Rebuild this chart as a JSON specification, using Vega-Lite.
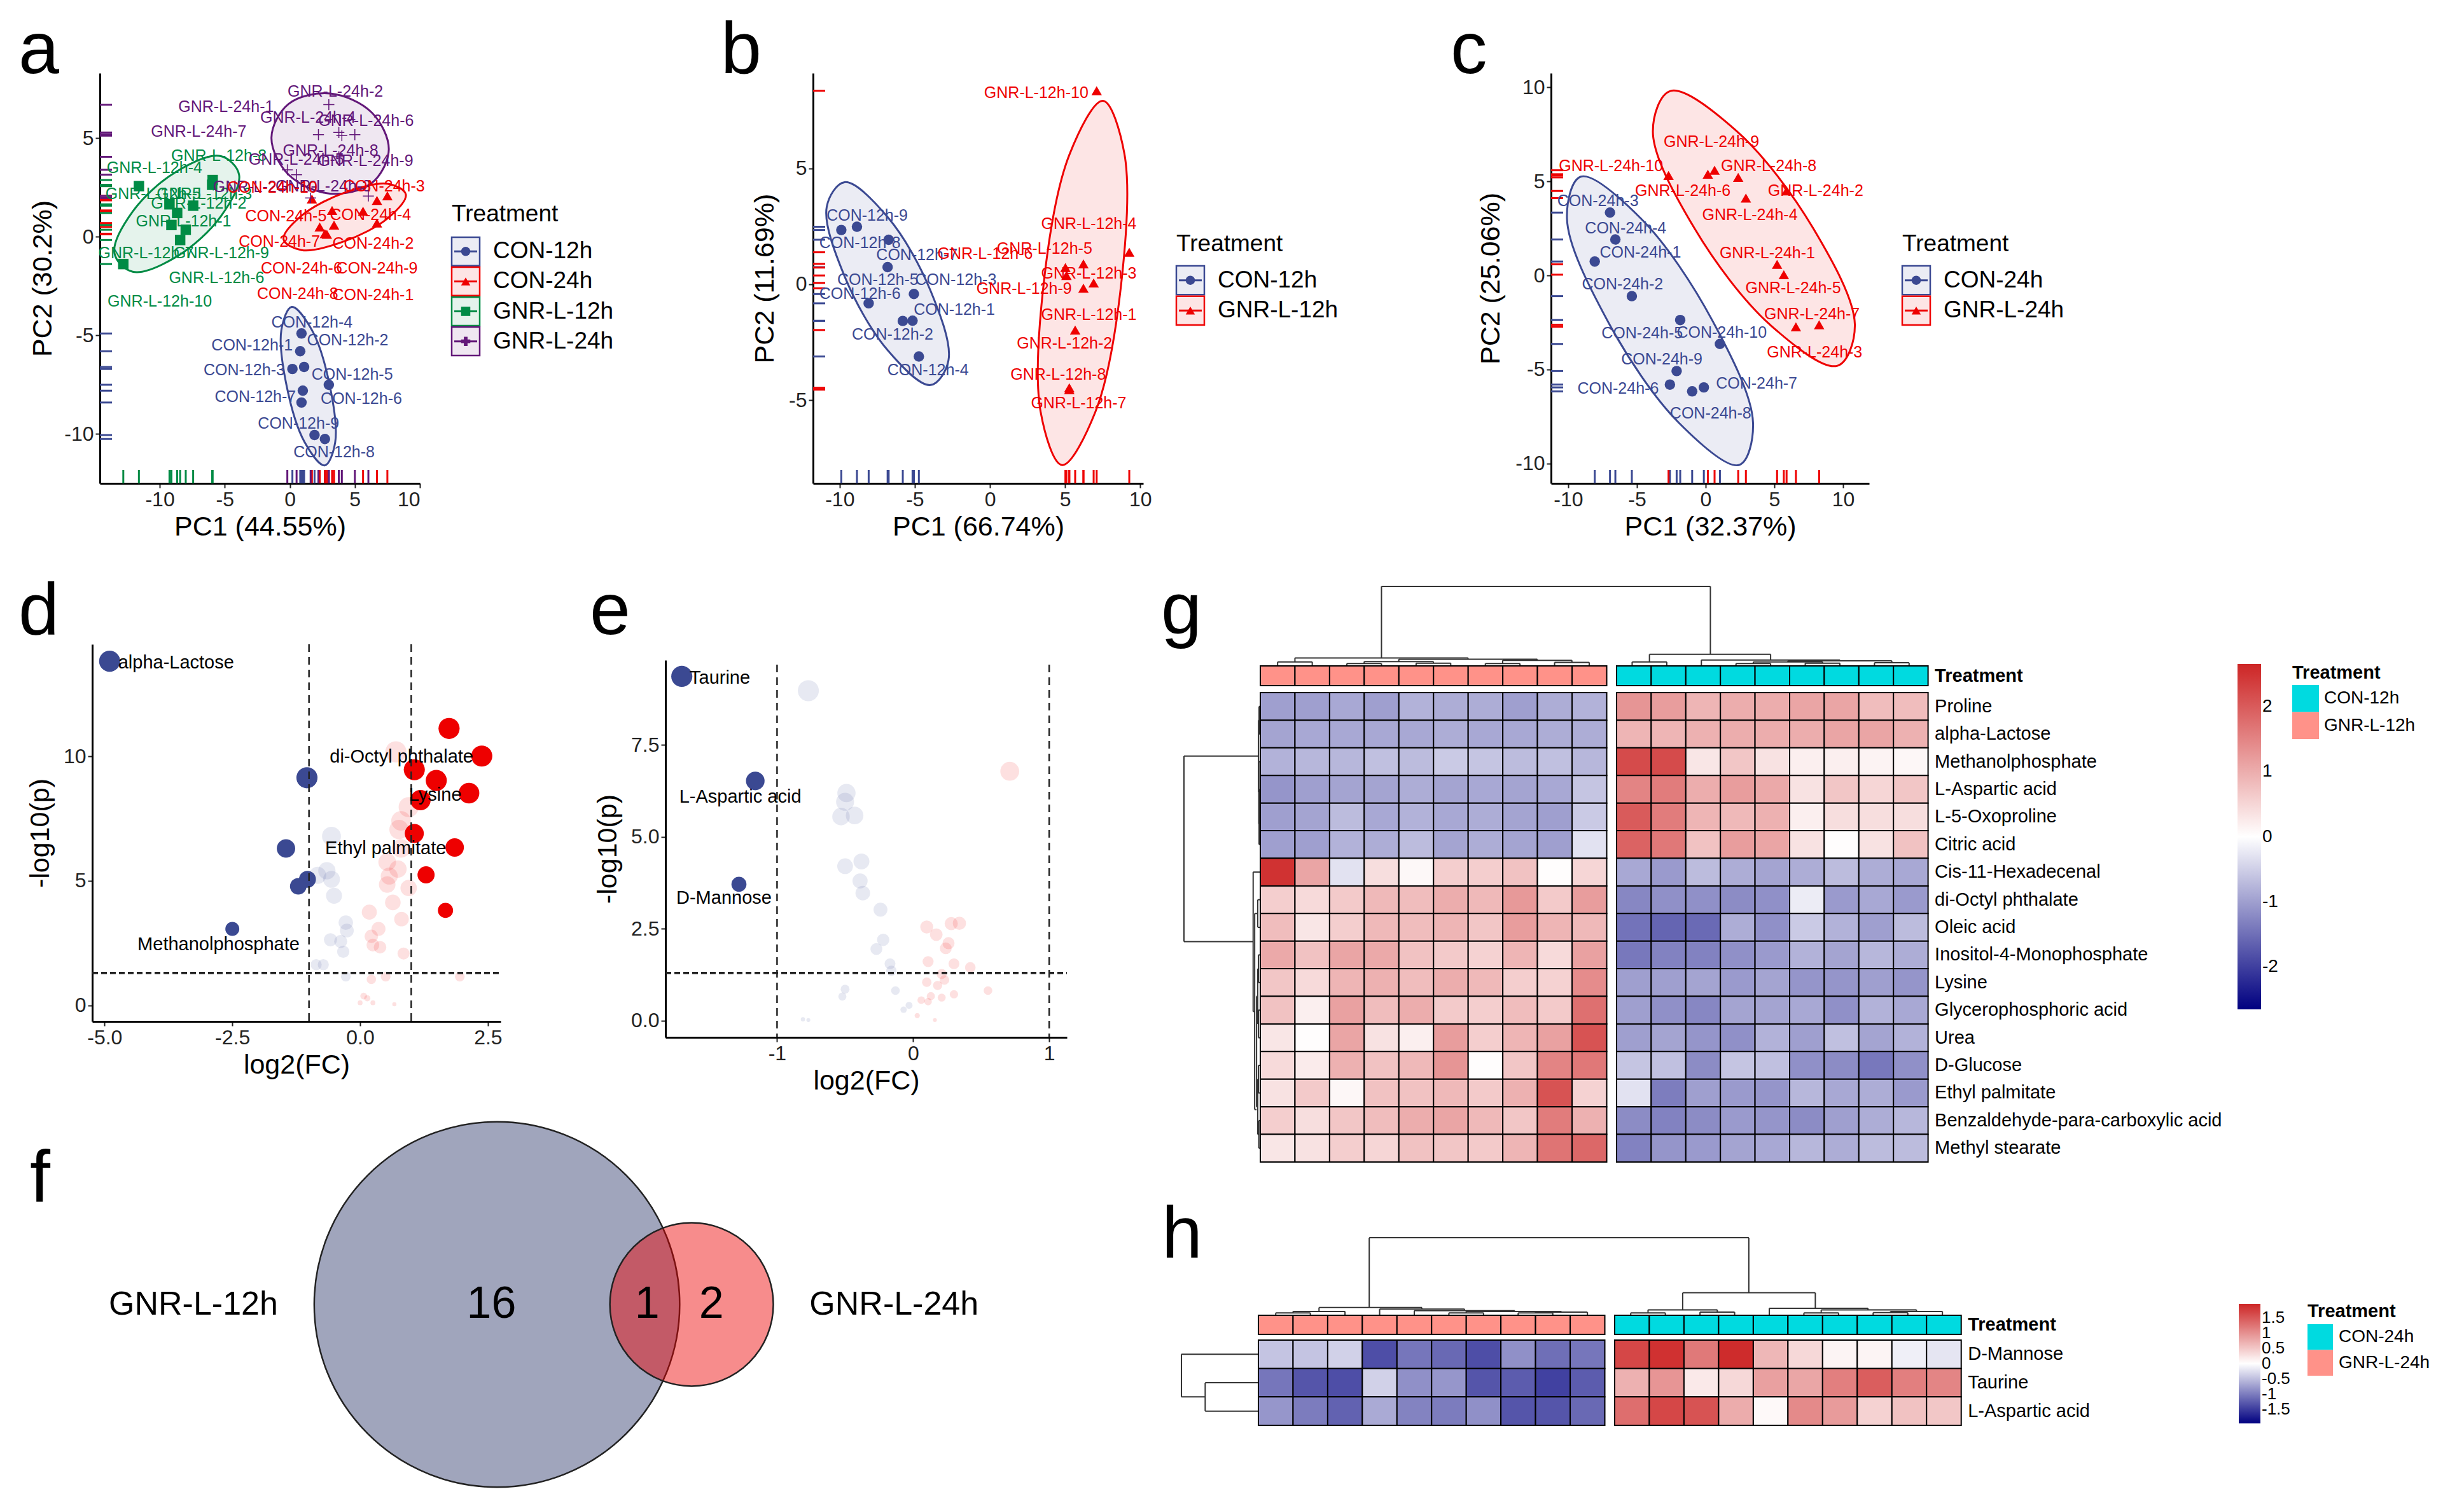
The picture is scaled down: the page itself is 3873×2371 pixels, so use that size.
{"$schema":"https://vega.github.io/schema/vega-lite/v6.json","padding":0,"background":"white","config":{"font":"Liberation Sans","view":{"stroke":null},"axis":{"grid":false,"labelFont":"Liberation Sans","titleFont":"Liberation Sans","labelFontSize":32,"titleFontSize":43,"titleFontWeight":"normal","labelColor":"#222222","titleColor":"#000000","domainColor":"#000000","domainWidth":3,"tickColor":"#222222","tickWidth":2,"tickSize":7,"labelPadding":3,"labelOverlap":false}},
"datasets":{"one":[{"s":1}],
"a_pts":[{"series":"CON-12h","x":0.9,"y":-4.9},{"series":"CON-12h","x":0.8,"y":-5.8},{"series":"CON-12h","x":0.2,"y":-6.7},{"series":"CON-12h","x":1.1,"y":-6.6},{"series":"CON-12h","x":3.0,"y":-7.5},{"series":"CON-12h","x":1.0,"y":-7.8},{"series":"CON-12h","x":0.9,"y":-8.4},{"series":"CON-12h","x":1.9,"y":-10.05},{"series":"CON-12h","x":2.7,"y":-10.25},
{"series":"CON-24h","x":1.7,"y":1.92},{"series":"CON-24h","x":3.25,"y":1.34},{"series":"CON-24h","x":6.7,"y":1.85},{"series":"CON-24h","x":7.5,"y":2.08},{"series":"CON-24h","x":5.63,"y":1.3},{"series":"CON-24h","x":6.7,"y":0.7},{"series":"CON-24h","x":2.3,"y":0.5},{"series":"CON-24h","x":3.4,"y":0.6},{"series":"CON-24h","x":2.7,"y":0.16},{"series":"CON-24h","x":2.85,"y":0.13},
{"series":"GNR-L-12h","x":-12.8,"y":-1.38},{"series":"GNR-L-12h","x":-11.6,"y":2.57},{"series":"GNR-L-12h","x":-9.25,"y":1.65},{"series":"GNR-L-12h","x":-7.43,"y":1.58},{"series":"GNR-L-12h","x":-8.66,"y":1.21},{"series":"GNR-L-12h","x":-9.1,"y":0.6},{"series":"GNR-L-12h","x":-8.0,"y":0.36},{"series":"GNR-L-12h","x":-8.43,"y":-0.16},{"series":"GNR-L-12h","x":-5.97,"y":2.64},{"series":"GNR-L-12h","x":-5.93,"y":2.88},
{"series":"GNR-L-24h","x":3.0,"y":6.7},{"series":"GNR-L-24h","x":2.2,"y":5.18},{"series":"GNR-L-24h","x":3.77,"y":5.29},{"series":"GNR-L-24h","x":4.0,"y":5.13},{"series":"GNR-L-24h","x":5.0,"y":5.18},{"series":"GNR-L-24h","x":-0.19,"y":3.4},{"series":"GNR-L-24h","x":0.52,"y":3.15},{"series":"GNR-L-24h","x":3.77,"y":4.06},{"series":"GNR-L-24h","x":6.04,"y":2.07},{"series":"GNR-L-24h","x":1.6,"y":1.97}],
"a_lab":[{"series":"GNR-L-12h","label":"GNR-L-12h-4","x":-10.4,"y":3.5},{"series":"GNR-L-12h","label":"GNR-L-12h-8","x":-5.45,"y":4.1},{"series":"GNR-L-12h","label":"GNR-L-12h-5","x":-10.5,"y":2.16},{"series":"GNR-L-12h","label":"GNR-L-12h-3","x":-6.57,"y":2.16},{"series":"GNR-L-12h","label":"GNR-L-12h-2","x":-7.0,"y":1.7},{"series":"GNR-L-12h","label":"GNR-L-12h-1","x":-8.17,"y":0.8},{"series":"GNR-L-12h","label":"GNR-L-12h-7","x":-11.05,"y":-0.83},{"series":"GNR-L-12h","label":"GNR-L-12h-9","x":-5.26,"y":-0.83},{"series":"GNR-L-12h","label":"GNR-L-12h-6","x":-5.63,"y":-2.07},{"series":"GNR-L-12h","label":"GNR-L-12h-10","x":-10.0,"y":-3.28},
{"series":"GNR-L-24h","label":"GNR-L-24h-2","x":3.5,"y":7.37},{"series":"GNR-L-24h","label":"GNR-L-24h-1","x":-4.9,"y":6.6},{"series":"GNR-L-24h","label":"GNR-L-24h-4","x":1.4,"y":6.05},{"series":"GNR-L-24h","label":"GNR-L-24h-6","x":5.86,"y":5.87},{"series":"GNR-L-24h","label":"GNR-L-24h-7","x":-7.0,"y":5.33},{"series":"GNR-L-24h","label":"GNR-L-24h-8","x":3.13,"y":4.38},{"series":"GNR-L-24h","label":"GNR-L-24h-5","x":0.5,"y":3.9},{"series":"GNR-L-24h","label":"GNR-L-24h-9","x":5.82,"y":3.84},{"series":"GNR-L-24h","label":"GNR-L-24h-10","x":-1.9,"y":2.54},{"series":"GNR-L-24h","label":"GNR-L-24h-3","x":2.57,"y":2.57},
{"series":"CON-24h","label":"CON-24h-3","x":7.25,"y":2.57},{"series":"CON-24h","label":"CON-24h-10","x":-1.35,"y":2.5},{"series":"CON-24h","label":"CON-24h-5","x":-0.3,"y":1.03},{"series":"CON-24h","label":"CON-24h-4","x":6.2,"y":1.1},{"series":"CON-24h","label":"CON-24h-7","x":-0.8,"y":-0.25},{"series":"CON-24h","label":"CON-24h-2","x":6.4,"y":-0.34},{"series":"CON-24h","label":"CON-24h-9","x":6.7,"y":-1.6},{"series":"CON-24h","label":"CON-24h-6","x":0.9,"y":-1.6},{"series":"CON-24h","label":"CON-24h-8","x":0.6,"y":-2.88},{"series":"CON-24h","label":"CON-24h-1","x":6.4,"y":-2.97},
{"series":"CON-12h","label":"CON-12h-4","x":1.7,"y":-4.33},{"series":"CON-12h","label":"CON-12h-1","x":-2.9,"y":-5.5},{"series":"CON-12h","label":"CON-12h-2","x":4.45,"y":-5.25},{"series":"CON-12h","label":"CON-12h-3","x":-3.5,"y":-6.75},{"series":"CON-12h","label":"CON-12h-5","x":4.8,"y":-6.98},{"series":"CON-12h","label":"CON-12h-7","x":-2.65,"y":-8.12},{"series":"CON-12h","label":"CON-12h-6","x":5.5,"y":-8.2},{"series":"CON-12h","label":"CON-12h-9","x":0.67,"y":-9.47},{"series":"CON-12h","label":"CON-12h-8","x":3.4,"y":-10.93}],
"a_ell":[{"series":"GNR-L-12h","i":0,"x":-3.9,"y":3.15},{"series":"GNR-L-12h","i":1,"x":-5.3,"y":4.09},{"series":"GNR-L-12h","i":2,"x":-8.69,"y":3.32},{"series":"GNR-L-12h","i":3,"x":-12.08,"y":1.28},{"series":"GNR-L-12h","i":4,"x":-13.48,"y":-0.83},{"series":"GNR-L-12h","i":5,"x":-12.08,"y":-1.77},{"series":"GNR-L-12h","i":6,"x":-8.69,"y":-1.0},{"series":"GNR-L-12h","i":7,"x":-5.3,"y":1.04},
{"series":"GNR-L-24h","i":0,"x":7.61,"y":4.43},{"series":"GNR-L-24h","i":1,"x":6.29,"y":6.31},{"series":"GNR-L-24h","i":2,"x":3.1,"y":7.27},{"series":"GNR-L-24h","i":3,"x":-0.09,"y":6.74},{"series":"GNR-L-24h","i":4,"x":-1.41,"y":5.03},{"series":"GNR-L-24h","i":5,"x":-0.09,"y":3.15},{"series":"GNR-L-24h","i":6,"x":3.1,"y":2.19},{"series":"GNR-L-24h","i":7,"x":6.29,"y":2.72},
{"series":"CON-24h","i":0,"x":8.92,"y":2.15},{"series":"CON-24h","i":1,"x":7.54,"y":2.69},{"series":"CON-24h","i":2,"x":4.22,"y":2.24},{"series":"CON-24h","i":3,"x":0.9,"y":1.07},{"series":"CON-24h","i":4,"x":-0.48,"y":-0.13},{"series":"CON-24h","i":5,"x":0.9,"y":-0.67},{"series":"CON-24h","i":6,"x":4.22,"y":-0.22},{"series":"CON-24h","i":7,"x":7.54,"y":0.95},
{"series":"CON-12h","i":0,"x":2.69,"y":-11.59},{"series":"CON-12h","i":1,"x":3.49,"y":-10.41},{"series":"CON-12h","i":2,"x":3.08,"y":-7.57},{"series":"CON-12h","i":3,"x":1.7,"y":-4.73},{"series":"CON-12h","i":4,"x":0.15,"y":-3.55},{"series":"CON-12h","i":5,"x":-0.65,"y":-4.73},{"series":"CON-12h","i":6,"x":-0.24,"y":-7.57},{"series":"CON-12h","i":7,"x":1.14,"y":-10.41}],
"b_pts":[{"series":"CON-12h","x":-9.89,"y":2.34},{"series":"CON-12h","x":-8.85,"y":2.48},{"series":"CON-12h","x":-6.74,"y":1.92},{"series":"CON-12h","x":-6.81,"y":0.74},{"series":"CON-12h","x":-5.06,"y":-0.42},{"series":"CON-12h","x":-8.07,"y":-0.82},{"series":"CON-12h","x":-5.8,"y":-1.58},{"series":"CON-12h","x":-5.15,"y":-1.57},{"series":"CON-12h","x":-4.73,"y":-3.11},
{"series":"GNR-L-12h","x":7.1,"y":8.34},{"series":"GNR-L-12h","x":9.27,"y":1.38},{"series":"GNR-L-12h","x":6.22,"y":0.88},{"series":"GNR-L-12h","x":5.02,"y":0.72},{"series":"GNR-L-12h","x":5.09,"y":0.38},{"series":"GNR-L-12h","x":6.9,"y":0.06},{"series":"GNR-L-12h","x":6.22,"y":-0.17},{"series":"GNR-L-12h","x":5.67,"y":-1.97},{"series":"GNR-L-12h","x":5.28,"y":-4.46},{"series":"GNR-L-12h","x":5.28,"y":-4.54}],
"b_lab":[{"series":"CON-12h","label":"CON-12h-9","x":-8.17,"y":2.95},{"series":"CON-12h","label":"CON-12h-8","x":-8.65,"y":1.77},{"series":"CON-12h","label":"CON-12h-7","x":-4.86,"y":1.26},{"series":"CON-12h","label":"CON-12h-5","x":-7.46,"y":0.18},{"series":"CON-12h","label":"CON-12h-3","x":-2.27,"y":0.18},{"series":"CON-12h","label":"CON-12h-6","x":-8.65,"y":-0.4},{"series":"CON-12h","label":"CON-12h-1","x":-2.37,"y":-1.09},{"series":"CON-12h","label":"CON-12h-2","x":-6.48,"y":-2.17},{"series":"CON-12h","label":"CON-12h-4","x":-4.12,"y":-3.69},
{"series":"GNR-L-12h","label":"GNR-L-12h-10","x":3.08,"y":8.26},{"series":"GNR-L-12h","label":"GNR-L-12h-4","x":6.58,"y":2.6},{"series":"GNR-L-12h","label":"GNR-L-12h-5","x":3.63,"y":1.54},{"series":"GNR-L-12h","label":"GNR-L-12h-6","x":-0.32,"y":1.31},{"series":"GNR-L-12h","label":"GNR-L-12h-3","x":6.58,"y":0.46},{"series":"GNR-L-12h","label":"GNR-L-12h-9","x":2.27,"y":-0.2},{"series":"GNR-L-12h","label":"GNR-L-12h-1","x":6.58,"y":-1.31},{"series":"GNR-L-12h","label":"GNR-L-12h-2","x":4.96,"y":-2.54},{"series":"GNR-L-12h","label":"GNR-L-12h-8","x":4.54,"y":-3.89},{"series":"GNR-L-12h","label":"GNR-L-12h-7","x":5.9,"y":-5.12}],
"b_ell":[{"series":"CON-12h","i":0,"x":-2.76,"y":-3.28},{"series":"CON-12h","i":1,"x":-3.95,"y":-0.28},{"series":"CON-12h","i":2,"x":-6.81,"y":2.9},{"series":"CON-12h","i":3,"x":-9.67,"y":4.4},{"series":"CON-12h","i":4,"x":-10.86,"y":3.34},{"series":"CON-12h","i":5,"x":-9.67,"y":0.34},{"series":"CON-12h","i":6,"x":-6.81,"y":-2.84},{"series":"CON-12h","i":7,"x":-3.95,"y":-4.34},
{"series":"GNR-L-12h","i":0,"x":7.52,"y":7.91},{"series":"GNR-L-12h","i":1,"x":8.95,"y":5.61},{"series":"GNR-L-12h","i":2,"x":8.74,"y":0.06},{"series":"GNR-L-12h","i":3,"x":7.02,"y":-5.49},{"series":"GNR-L-12h","i":4,"x":4.8,"y":-7.79},{"series":"GNR-L-12h","i":5,"x":3.37,"y":-5.49},{"series":"GNR-L-12h","i":6,"x":3.58,"y":0.06},{"series":"GNR-L-12h","i":7,"x":5.3,"y":5.61}],
"c_pts":[{"series":"CON-24h","x":-6.96,"y":3.34},{"series":"CON-24h","x":-6.57,"y":1.91},{"series":"CON-24h","x":-8.07,"y":0.74},{"series":"CON-24h","x":-5.37,"y":-1.1},{"series":"CON-24h","x":-1.85,"y":-2.37},{"series":"CON-24h","x":1.04,"y":-3.64},{"series":"CON-24h","x":-2.11,"y":-5.08},{"series":"CON-24h","x":-2.6,"y":-5.8},{"series":"CON-24h","x":-0.13,"y":-5.95},{"series":"CON-24h","x":-0.98,"y":-6.16},
{"series":"GNR-L-24h","x":-2.7,"y":5.31},{"series":"GNR-L-24h","x":0.16,"y":5.38},{"series":"GNR-L-24h","x":0.65,"y":5.59},{"series":"GNR-L-24h","x":2.37,"y":5.21},{"series":"GNR-L-24h","x":5.89,"y":4.49},{"series":"GNR-L-24h","x":2.93,"y":4.11},{"series":"GNR-L-24h","x":5.2,"y":0.59},{"series":"GNR-L-24h","x":5.69,"y":0.04},{"series":"GNR-L-24h","x":6.57,"y":-2.73},{"series":"GNR-L-24h","x":8.26,"y":-2.62}],
"c_lab":[{"series":"CON-24h","label":"CON-24h-3","x":-7.84,"y":3.96},{"series":"CON-24h","label":"CON-24h-4","x":-5.82,"y":2.5},{"series":"CON-24h","label":"CON-24h-1","x":-4.75,"y":1.21},{"series":"CON-24h","label":"CON-24h-2","x":-6.05,"y":-0.47},{"series":"CON-24h","label":"CON-24h-5","x":-4.62,"y":-3.09},{"series":"CON-24h","label":"CON-24h-10","x":1.17,"y":-3.05},{"series":"CON-24h","label":"CON-24h-9","x":-3.19,"y":-4.45},{"series":"CON-24h","label":"CON-24h-7","x":3.71,"y":-5.74},{"series":"CON-24h","label":"CON-24h-6","x":-6.37,"y":-6.03},{"series":"CON-24h","label":"CON-24h-8","x":0.36,"y":-7.32},
{"series":"GNR-L-24h","label":"GNR-L-24h-9","x":0.42,"y":7.11},{"series":"GNR-L-24h","label":"GNR-L-24h-10","x":-6.89,"y":5.82},{"series":"GNR-L-24h","label":"GNR-L-24h-8","x":4.59,"y":5.82},{"series":"GNR-L-24h","label":"GNR-L-24h-6","x":-1.66,"y":4.49},{"series":"GNR-L-24h","label":"GNR-L-24h-2","x":8.0,"y":4.49},{"series":"GNR-L-24h","label":"GNR-L-24h-4","x":3.22,"y":3.2},{"series":"GNR-L-24h","label":"GNR-L-24h-1","x":4.49,"y":1.18},{"series":"GNR-L-24h","label":"GNR-L-24h-5","x":6.37,"y":-0.68},{"series":"GNR-L-24h","label":"GNR-L-24h-7","x":7.74,"y":-2.05},{"series":"GNR-L-24h","label":"GNR-L-24h-3","x":7.93,"y":-4.09}],
"c_ell":[{"series":"CON-24h","i":0,"x":-9.08,"y":5.25},{"series":"CON-24h","i":1,"x":-4.69,"y":3.01},{"series":"CON-24h","i":2,"x":0.5,"y":-2.41},{"series":"CON-24h","i":3,"x":3.45,"y":-7.83},{"series":"CON-24h","i":4,"x":2.44,"y":-10.07},{"series":"CON-24h","i":5,"x":-1.95,"y":-7.83},{"series":"CON-24h","i":6,"x":-7.14,"y":-2.41},{"series":"CON-24h","i":7,"x":-10.09,"y":3.01},
{"series":"GNR-L-24h","i":0,"x":-2.57,"y":9.8},{"series":"GNR-L-24h","i":1,"x":2.27,"y":7.66},{"series":"GNR-L-24h","i":2,"x":7.83,"y":2.5},{"series":"GNR-L-24h","i":3,"x":10.86,"y":-2.66},{"series":"GNR-L-24h","i":4,"x":9.59,"y":-4.8},{"series":"GNR-L-24h","i":5,"x":4.75,"y":-2.66},{"series":"GNR-L-24h","i":6,"x":-0.81,"y":2.5},{"series":"GNR-L-24h","i":7,"x":-3.84,"y":7.66}],
"leg4":[{"series":"CON-12h"},{"series":"CON-24h"},{"series":"GNR-L-12h"},{"series":"GNR-L-24h"}],
"d_vol":[{"group":"Up","sig":"no","x":0.7,"y":10.18},{"group":"Up","sig":"no","x":0.95,"y":7.96},{"group":"Up","sig":"no","x":0.8,"y":7.41},{"group":"Up","sig":"no","x":0.76,"y":7.06},{"group":"Up","sig":"no","x":0.8,"y":6.3},{"group":"Up","sig":"no","x":0.53,"y":5.75},{"group":"Up","sig":"no","x":0.74,"y":5.47},{"group":"Up","sig":"no","x":0.57,"y":5.19},{"group":"Up","sig":"no","x":0.53,"y":4.85},{"group":"Up","sig":"no","x":0.95,"y":4.71},{"group":"Up","sig":"no","x":0.64,"y":4.13},{"group":"Up","sig":"no","x":0.18,"y":3.74},{"group":"Up","sig":"no","x":0.81,"y":3.46},{"group":"Up","sig":"no","x":0.36,"y":3.07},{"group":"Up","sig":"no","x":0.22,"y":2.77},{"group":"Up","sig":"no","x":0.25,"y":2.42},{"group":"Up","sig":"no","x":0.39,"y":2.33},{"group":"Up","sig":"no","x":0.85,"y":2.08},{"group":"Up","sig":"no","x":0.22,"y":1.04},{"group":"Up","sig":"no","x":0.5,"y":1.15},{"group":"Up","sig":"no","x":1.95,"y":1.15},{"group":"Up","sig":"no","x":0.07,"y":0.37},{"group":"Up","sig":"no","x":0.14,"y":0.28},{"group":"Up","sig":"no","x":0.0,"y":0.1},{"group":"Up","sig":"no","x":0.25,"y":0.1},{"group":"Up","sig":"no","x":0.67,"y":0.04},
{"group":"Down","sig":"no","x":-0.56,"y":6.79},{"group":"Down","sig":"no","x":-0.65,"y":5.4},{"group":"Down","sig":"no","x":-0.83,"y":5.22},{"group":"Down","sig":"no","x":-0.56,"y":5.06},{"group":"Down","sig":"no","x":-0.51,"y":4.4},{"group":"Down","sig":"no","x":-0.28,"y":3.32},{"group":"Down","sig":"no","x":-0.26,"y":3.0},{"group":"Down","sig":"no","x":-0.58,"y":2.63},{"group":"Down","sig":"no","x":-0.38,"y":2.56},{"group":"Down","sig":"no","x":-0.33,"y":2.15},{"group":"Down","sig":"no","x":-0.86,"y":1.63},{"group":"Down","sig":"no","x":-0.72,"y":1.63},{"group":"Down","sig":"no","x":-0.28,"y":1.15},
{"group":"Down","sig":"yes","x":-4.9,"y":13.82},{"group":"Down","sig":"yes","x":-1.04,"y":9.14},{"group":"Down","sig":"yes","x":-1.45,"y":6.3},{"group":"Down","sig":"yes","x":-1.03,"y":5.06},{"group":"Down","sig":"yes","x":-1.21,"y":4.78},{"group":"Down","sig":"yes","x":-2.5,"y":3.07},
{"group":"Up","sig":"yes","x":1.74,"y":11.12},{"group":"Up","sig":"yes","x":2.38,"y":10.01},{"group":"Up","sig":"yes","x":1.06,"y":9.46},{"group":"Up","sig":"yes","x":1.49,"y":9.03},{"group":"Up","sig":"yes","x":2.13,"y":8.52},{"group":"Up","sig":"yes","x":1.18,"y":8.24},{"group":"Up","sig":"yes","x":1.06,"y":6.9},{"group":"Up","sig":"yes","x":1.85,"y":6.34},{"group":"Up","sig":"yes","x":1.29,"y":5.24},{"group":"Up","sig":"yes","x":1.67,"y":3.81}],
"d_lab":[{"label":"alpha-Lactose","x":-3.6,"y":13.75},{"label":"di-Octyl phthalate","x":0.81,"y":9.97},{"label":"Lysine","x":1.47,"y":8.45},{"label":"Ethyl palmitate","x":0.5,"y":6.3},{"label":"Methanolphosphate","x":-2.77,"y":2.45}],
"e_vol":[{"group":"Down","sig":"no","x":-0.77,"y":8.97},{"group":"Down","sig":"no","x":-0.49,"y":6.19},{"group":"Down","sig":"no","x":-0.5,"y":5.95},{"group":"Down","sig":"no","x":-0.53,"y":5.55},{"group":"Down","sig":"no","x":-0.43,"y":5.58},{"group":"Down","sig":"no","x":-0.5,"y":4.2},{"group":"Down","sig":"no","x":-0.38,"y":4.33},{"group":"Down","sig":"no","x":-0.39,"y":3.8},{"group":"Down","sig":"no","x":-0.37,"y":3.47},{"group":"Down","sig":"no","x":-0.24,"y":3.02},{"group":"Down","sig":"no","x":-0.22,"y":2.2},{"group":"Down","sig":"no","x":-0.27,"y":1.95},{"group":"Down","sig":"no","x":-0.17,"y":1.55},{"group":"Down","sig":"no","x":-0.16,"y":1.36},{"group":"Down","sig":"no","x":-0.5,"y":0.86},{"group":"Down","sig":"no","x":-0.52,"y":0.66},{"group":"Down","sig":"no","x":-0.13,"y":0.82},{"group":"Down","sig":"no","x":-0.03,"y":0.42},{"group":"Down","sig":"no","x":-0.07,"y":0.3},{"group":"Down","sig":"no","x":-0.81,"y":0.04},{"group":"Down","sig":"no","x":-0.77,"y":0.02},
{"group":"Up","sig":"no","x":0.71,"y":6.78},{"group":"Up","sig":"no","x":0.28,"y":2.64},{"group":"Up","sig":"no","x":0.34,"y":2.65},{"group":"Up","sig":"no","x":0.1,"y":2.55},{"group":"Up","sig":"no","x":0.17,"y":2.34},{"group":"Up","sig":"no","x":0.26,"y":2.11},{"group":"Up","sig":"no","x":0.24,"y":1.97},{"group":"Up","sig":"no","x":0.11,"y":1.61},{"group":"Up","sig":"no","x":0.3,"y":1.55},{"group":"Up","sig":"no","x":0.42,"y":1.45},{"group":"Up","sig":"no","x":0.21,"y":1.27},{"group":"Up","sig":"no","x":0.1,"y":1.05},{"group":"Up","sig":"no","x":0.23,"y":1.11},{"group":"Up","sig":"no","x":0.18,"y":0.96},{"group":"Up","sig":"no","x":0.55,"y":0.82},{"group":"Up","sig":"no","x":0.3,"y":0.72},{"group":"Up","sig":"no","x":0.13,"y":0.67},{"group":"Up","sig":"no","x":0.21,"y":0.63},{"group":"Up","sig":"no","x":0.06,"y":0.56},{"group":"Up","sig":"no","x":0.11,"y":0.52},{"group":"Up","sig":"no","x":0.03,"y":0.14},{"group":"Up","sig":"no","x":0.16,"y":0.02},
{"group":"Down","sig":"yes","x":-1.7,"y":9.36},{"group":"Down","sig":"yes","x":-1.16,"y":6.52},{"group":"Down","sig":"yes","x":-1.28,"y":3.71}],
"e_lab":[{"label":"Taurine","x":-1.42,"y":9.31},{"label":"L-Aspartic acid","x":-1.27,"y":6.09},{"label":"D-Mannose","x":-1.39,"y":3.33}],
"venn":[{"set":"GNR-L-12h","x":0,"y":0,"n":17},{"set":"GNR-L-24h","x":1.055,"y":0,"n":3}],
"venn_lab":[{"label":"GNR-L-12h","x":-1.645,"y":0,"kind":"name"},{"label":"GNR-L-24h","x":2.152,"y":0,"kind":"name"},{"label":"16","x":-0.03,"y":0,"kind":"count"},{"label":"1","x":0.814,"y":0,"kind":"count"},{"label":"2","x":1.162,"y":0,"kind":"count"}],
"g_l":[
{"met":"Proline","sample":"G1","z":-1.0},{"met":"Proline","sample":"G2","z":-1.0},{"met":"Proline","sample":"G3","z":-0.9},{"met":"Proline","sample":"G4","z":-1.0},{"met":"Proline","sample":"G5","z":-0.8},{"met":"Proline","sample":"G6","z":-0.85},{"met":"Proline","sample":"G7","z":-0.85},{"met":"Proline","sample":"G8","z":-1.0},{"met":"Proline","sample":"G9","z":-0.85},{"met":"Proline","sample":"G10","z":-0.8},
{"met":"alpha-Lactose","sample":"G1","z":-0.95},{"met":"alpha-Lactose","sample":"G2","z":-0.9},{"met":"alpha-Lactose","sample":"G3","z":-0.9},{"met":"alpha-Lactose","sample":"G4","z":-0.9},{"met":"alpha-Lactose","sample":"G5","z":-0.9},{"met":"alpha-Lactose","sample":"G6","z":-0.85},{"met":"alpha-Lactose","sample":"G7","z":-0.9},{"met":"alpha-Lactose","sample":"G8","z":-0.9},{"met":"alpha-Lactose","sample":"G9","z":-0.85},{"met":"alpha-Lactose","sample":"G10","z":-0.85},
{"met":"Methanolphosphate","sample":"G1","z":-0.8},{"met":"Methanolphosphate","sample":"G2","z":-0.75},{"met":"Methanolphosphate","sample":"G3","z":-0.75},{"met":"Methanolphosphate","sample":"G4","z":-0.65},{"met":"Methanolphosphate","sample":"G5","z":-0.7},{"met":"Methanolphosphate","sample":"G6","z":-0.55},{"met":"Methanolphosphate","sample":"G7","z":-0.6},{"met":"Methanolphosphate","sample":"G8","z":-0.7},{"met":"Methanolphosphate","sample":"G9","z":-0.65},{"met":"Methanolphosphate","sample":"G10","z":-0.75},
{"met":"L-Aspartic acid","sample":"G1","z":-1.1},{"met":"L-Aspartic acid","sample":"G2","z":-1.0},{"met":"L-Aspartic acid","sample":"G3","z":-0.95},{"met":"L-Aspartic acid","sample":"G4","z":-0.95},{"met":"L-Aspartic acid","sample":"G5","z":-0.85},{"met":"L-Aspartic acid","sample":"G6","z":-0.95},{"met":"L-Aspartic acid","sample":"G7","z":-0.9},{"met":"L-Aspartic acid","sample":"G8","z":-0.95},{"met":"L-Aspartic acid","sample":"G9","z":-0.9},{"met":"L-Aspartic acid","sample":"G10","z":-0.6},
{"met":"L-5-Oxoproline","sample":"G1","z":-1.0},{"met":"L-5-Oxoproline","sample":"G2","z":-0.95},{"met":"L-5-Oxoproline","sample":"G3","z":-0.7},{"met":"L-5-Oxoproline","sample":"G4","z":-0.9},{"met":"L-5-Oxoproline","sample":"G5","z":-0.8},{"met":"L-5-Oxoproline","sample":"G6","z":-0.9},{"met":"L-5-Oxoproline","sample":"G7","z":-0.85},{"met":"L-5-Oxoproline","sample":"G8","z":-0.95},{"met":"L-5-Oxoproline","sample":"G9","z":-1.0},{"met":"L-5-Oxoproline","sample":"G10","z":-0.55},
{"met":"Citric acid","sample":"G1","z":-1.0},{"met":"Citric acid","sample":"G2","z":-1.0},{"met":"Citric acid","sample":"G3","z":-0.8},{"met":"Citric acid","sample":"G4","z":-0.85},{"met":"Citric acid","sample":"G5","z":-0.7},{"met":"Citric acid","sample":"G6","z":-0.95},{"met":"Citric acid","sample":"G7","z":-0.85},{"met":"Citric acid","sample":"G8","z":-0.95},{"met":"Citric acid","sample":"G9","z":-1.0},{"met":"Citric acid","sample":"G10","z":-0.3},
{"met":"Cis-11-Hexadecenal","sample":"G1","z":2.5},{"met":"Cis-11-Hexadecenal","sample":"G2","z":1.1},{"met":"Cis-11-Hexadecenal","sample":"G3","z":-0.3},{"met":"Cis-11-Hexadecenal","sample":"G4","z":0.4},{"met":"Cis-11-Hexadecenal","sample":"G5","z":0.08},{"met":"Cis-11-Hexadecenal","sample":"G6","z":0.6},{"met":"Cis-11-Hexadecenal","sample":"G7","z":0.6},{"met":"Cis-11-Hexadecenal","sample":"G8","z":0.75},{"met":"Cis-11-Hexadecenal","sample":"G9","z":0.02},{"met":"Cis-11-Hexadecenal","sample":"G10","z":0.5},
{"met":"di-Octyl phthalate","sample":"G1","z":0.6},{"met":"di-Octyl phthalate","sample":"G2","z":0.45},{"met":"di-Octyl phthalate","sample":"G3","z":0.65},{"met":"di-Octyl phthalate","sample":"G4","z":0.85},{"met":"di-Octyl phthalate","sample":"G5","z":0.8},{"met":"di-Octyl phthalate","sample":"G6","z":1.0},{"met":"di-Octyl phthalate","sample":"G7","z":0.85},{"met":"di-Octyl phthalate","sample":"G8","z":1.25},{"met":"di-Octyl phthalate","sample":"G9","z":0.65},{"met":"di-Octyl phthalate","sample":"G10","z":1.2},
{"met":"Oleic acid","sample":"G1","z":0.8},{"met":"Oleic acid","sample":"G2","z":0.3},{"met":"Oleic acid","sample":"G3","z":0.6},{"met":"Oleic acid","sample":"G4","z":0.85},{"met":"Oleic acid","sample":"G5","z":0.8},{"met":"Oleic acid","sample":"G6","z":0.9},{"met":"Oleic acid","sample":"G7","z":0.7},{"met":"Oleic acid","sample":"G8","z":1.2},{"met":"Oleic acid","sample":"G9","z":0.9},{"met":"Oleic acid","sample":"G10","z":0.85},
{"met":"Inositol-4-Monophosphate","sample":"G1","z":1.05},{"met":"Inositol-4-Monophosphate","sample":"G2","z":0.75},{"met":"Inositol-4-Monophosphate","sample":"G3","z":1.1},{"met":"Inositol-4-Monophosphate","sample":"G4","z":1.05},{"met":"Inositol-4-Monophosphate","sample":"G5","z":0.75},{"met":"Inositol-4-Monophosphate","sample":"G6","z":0.65},{"met":"Inositol-4-Monophosphate","sample":"G7","z":0.55},{"met":"Inositol-4-Monophosphate","sample":"G8","z":0.9},{"met":"Inositol-4-Monophosphate","sample":"G9","z":0.45},{"met":"Inositol-4-Monophosphate","sample":"G10","z":1.15},
{"met":"Lysine","sample":"G1","z":0.7},{"met":"Lysine","sample":"G2","z":0.45},{"met":"Lysine","sample":"G3","z":0.9},{"met":"Lysine","sample":"G4","z":0.95},{"met":"Lysine","sample":"G5","z":0.8},{"met":"Lysine","sample":"G6","z":1.0},{"met":"Lysine","sample":"G7","z":0.85},{"met":"Lysine","sample":"G8","z":0.6},{"met":"Lysine","sample":"G9","z":0.55},{"met":"Lysine","sample":"G10","z":1.4},
{"met":"Glycerophosphoric acid","sample":"G1","z":0.75},{"met":"Glycerophosphoric acid","sample":"G2","z":0.2},{"met":"Glycerophosphoric acid","sample":"G3","z":1.15},{"met":"Glycerophosphoric acid","sample":"G4","z":0.8},{"met":"Glycerophosphoric acid","sample":"G5","z":1.0},{"met":"Glycerophosphoric acid","sample":"G6","z":0.65},{"met":"Glycerophosphoric acid","sample":"G7","z":0.6},{"met":"Glycerophosphoric acid","sample":"G8","z":0.8},{"met":"Glycerophosphoric acid","sample":"G9","z":0.65},{"met":"Glycerophosphoric acid","sample":"G10","z":1.75},
{"met":"Urea","sample":"G1","z":0.3},{"met":"Urea","sample":"G2","z":0.02},{"met":"Urea","sample":"G3","z":1.1},{"met":"Urea","sample":"G4","z":0.35},{"met":"Urea","sample":"G5","z":0.2},{"met":"Urea","sample":"G6","z":1.2},{"met":"Urea","sample":"G7","z":0.6},{"met":"Urea","sample":"G8","z":0.9},{"met":"Urea","sample":"G9","z":1.15},{"met":"Urea","sample":"G10","z":2.1},
{"met":"D-Glucose","sample":"G1","z":0.45},{"met":"D-Glucose","sample":"G2","z":0.25},{"met":"D-Glucose","sample":"G3","z":0.95},{"met":"D-Glucose","sample":"G4","z":0.75},{"met":"D-Glucose","sample":"G5","z":0.85},{"met":"D-Glucose","sample":"G6","z":1.3},{"met":"D-Glucose","sample":"G7","z":0.02},{"met":"D-Glucose","sample":"G8","z":0.7},{"met":"D-Glucose","sample":"G9","z":1.5},{"met":"D-Glucose","sample":"G10","z":1.65},
{"met":"Ethyl palmitate","sample":"G1","z":0.35},{"met":"Ethyl palmitate","sample":"G2","z":0.65},{"met":"Ethyl palmitate","sample":"G3","z":0.1},{"met":"Ethyl palmitate","sample":"G4","z":0.75},{"met":"Ethyl palmitate","sample":"G5","z":0.75},{"met":"Ethyl palmitate","sample":"G6","z":0.85},{"met":"Ethyl palmitate","sample":"G7","z":0.65},{"met":"Ethyl palmitate","sample":"G8","z":0.95},{"met":"Ethyl palmitate","sample":"G9","z":2.1},{"met":"Ethyl palmitate","sample":"G10","z":0.55},
{"met":"Benzaldehyde-para-carboxylic acid","sample":"G1","z":0.6},{"met":"Benzaldehyde-para-carboxylic acid","sample":"G2","z":0.4},{"met":"Benzaldehyde-para-carboxylic acid","sample":"G3","z":0.7},{"met":"Benzaldehyde-para-carboxylic acid","sample":"G4","z":0.8},{"met":"Benzaldehyde-para-carboxylic acid","sample":"G5","z":1.0},{"met":"Benzaldehyde-para-carboxylic acid","sample":"G6","z":1.1},{"met":"Benzaldehyde-para-carboxylic acid","sample":"G7","z":0.85},{"met":"Benzaldehyde-para-carboxylic acid","sample":"G8","z":0.7},{"met":"Benzaldehyde-para-carboxylic acid","sample":"G9","z":1.6},{"met":"Benzaldehyde-para-carboxylic acid","sample":"G10","z":0.95},
{"met":"Methyl stearate","sample":"G1","z":0.3},{"met":"Methyl stearate","sample":"G2","z":0.35},{"met":"Methyl stearate","sample":"G3","z":0.6},{"met":"Methyl stearate","sample":"G4","z":0.5},{"met":"Methyl stearate","sample":"G5","z":0.75},{"met":"Methyl stearate","sample":"G6","z":0.7},{"met":"Methyl stearate","sample":"G7","z":0.65},{"met":"Methyl stearate","sample":"G8","z":0.9},{"met":"Methyl stearate","sample":"G9","z":1.7},{"met":"Methyl stearate","sample":"G10","z":1.85}],
"g_r":[
{"met":"Proline","sample":"C1","z":1.3},{"met":"Proline","sample":"C2","z":1.2},{"met":"Proline","sample":"C3","z":0.9},{"met":"Proline","sample":"C4","z":1.0},{"met":"Proline","sample":"C5","z":1.0},{"met":"Proline","sample":"C6","z":1.1},{"met":"Proline","sample":"C7","z":1.1},{"met":"Proline","sample":"C8","z":0.8},{"met":"Proline","sample":"C9","z":0.8},
{"met":"alpha-Lactose","sample":"C1","z":0.9},{"met":"alpha-Lactose","sample":"C2","z":0.9},{"met":"alpha-Lactose","sample":"C3","z":0.95},{"met":"alpha-Lactose","sample":"C4","z":1.0},{"met":"alpha-Lactose","sample":"C5","z":1.0},{"met":"alpha-Lactose","sample":"C6","z":1.0},{"met":"alpha-Lactose","sample":"C7","z":1.1},{"met":"alpha-Lactose","sample":"C8","z":1.1},{"met":"alpha-Lactose","sample":"C9","z":0.95},
{"met":"Methanolphosphate","sample":"C1","z":2.2},{"met":"Methanolphosphate","sample":"C2","z":2.2},{"met":"Methanolphosphate","sample":"C3","z":0.3},{"met":"Methanolphosphate","sample":"C4","z":0.7},{"met":"Methanolphosphate","sample":"C5","z":0.35},{"met":"Methanolphosphate","sample":"C6","z":0.2},{"met":"Methanolphosphate","sample":"C7","z":0.2},{"met":"Methanolphosphate","sample":"C8","z":0.15},{"met":"Methanolphosphate","sample":"C9","z":0.1},
{"met":"L-Aspartic acid","sample":"C1","z":1.5},{"met":"L-Aspartic acid","sample":"C2","z":1.6},{"met":"L-Aspartic acid","sample":"C3","z":1.0},{"met":"L-Aspartic acid","sample":"C4","z":1.2},{"met":"L-Aspartic acid","sample":"C5","z":1.05},{"met":"L-Aspartic acid","sample":"C6","z":0.35},{"met":"L-Aspartic acid","sample":"C7","z":0.7},{"met":"L-Aspartic acid","sample":"C8","z":0.5},{"met":"L-Aspartic acid","sample":"C9","z":0.7},
{"met":"L-5-Oxoproline","sample":"C1","z":2.0},{"met":"L-5-Oxoproline","sample":"C2","z":1.6},{"met":"L-5-Oxoproline","sample":"C3","z":0.9},{"met":"L-5-Oxoproline","sample":"C4","z":0.85},{"met":"L-5-Oxoproline","sample":"C5","z":0.95},{"met":"L-5-Oxoproline","sample":"C6","z":0.2},{"met":"L-5-Oxoproline","sample":"C7","z":0.4},{"met":"L-5-Oxoproline","sample":"C8","z":0.4},{"met":"L-5-Oxoproline","sample":"C9","z":0.4},
{"met":"Citric acid","sample":"C1","z":1.9},{"met":"Citric acid","sample":"C2","z":1.65},{"met":"Citric acid","sample":"C3","z":0.75},{"met":"Citric acid","sample":"C4","z":1.2},{"met":"Citric acid","sample":"C5","z":1.1},{"met":"Citric acid","sample":"C6","z":0.35},{"met":"Citric acid","sample":"C7","z":0.02},{"met":"Citric acid","sample":"C8","z":0.35},{"met":"Citric acid","sample":"C9","z":0.75},
{"met":"Cis-11-Hexadecenal","sample":"C1","z":-0.9},{"met":"Cis-11-Hexadecenal","sample":"C2","z":-1.05},{"met":"Cis-11-Hexadecenal","sample":"C3","z":-0.7},{"met":"Cis-11-Hexadecenal","sample":"C4","z":-0.85},{"met":"Cis-11-Hexadecenal","sample":"C5","z":-0.95},{"met":"Cis-11-Hexadecenal","sample":"C6","z":-0.85},{"met":"Cis-11-Hexadecenal","sample":"C7","z":-0.7},{"met":"Cis-11-Hexadecenal","sample":"C8","z":-0.85},{"met":"Cis-11-Hexadecenal","sample":"C9","z":-0.9},
{"met":"di-Octyl phthalate","sample":"C1","z":-1.25},{"met":"di-Octyl phthalate","sample":"C2","z":-1.15},{"met":"di-Octyl phthalate","sample":"C3","z":-1.15},{"met":"di-Octyl phthalate","sample":"C4","z":-1.2},{"met":"di-Octyl phthalate","sample":"C5","z":-1.15},{"met":"di-Octyl phthalate","sample":"C6","z":-0.2},{"met":"di-Octyl phthalate","sample":"C7","z":-1.05},{"met":"di-Octyl phthalate","sample":"C8","z":-0.9},{"met":"di-Octyl phthalate","sample":"C9","z":-1.05},
{"met":"Oleic acid","sample":"C1","z":-1.45},{"met":"Oleic acid","sample":"C2","z":-1.6},{"met":"Oleic acid","sample":"C3","z":-1.55},{"met":"Oleic acid","sample":"C4","z":-0.85},{"met":"Oleic acid","sample":"C5","z":-1.15},{"met":"Oleic acid","sample":"C6","z":-0.55},{"met":"Oleic acid","sample":"C7","z":-0.8},{"met":"Oleic acid","sample":"C8","z":-1.0},{"met":"Oleic acid","sample":"C9","z":-0.7},
{"met":"Inositol-4-Monophosphate","sample":"C1","z":-1.4},{"met":"Inositol-4-Monophosphate","sample":"C2","z":-1.3},{"met":"Inositol-4-Monophosphate","sample":"C3","z":-1.3},{"met":"Inositol-4-Monophosphate","sample":"C4","z":-1.15},{"met":"Inositol-4-Monophosphate","sample":"C5","z":-1.05},{"met":"Inositol-4-Monophosphate","sample":"C6","z":-0.8},{"met":"Inositol-4-Monophosphate","sample":"C7","z":-0.95},{"met":"Inositol-4-Monophosphate","sample":"C8","z":-0.75},{"met":"Inositol-4-Monophosphate","sample":"C9","z":-0.85},
{"met":"Lysine","sample":"C1","z":-1.0},{"met":"Lysine","sample":"C2","z":-1.0},{"met":"Lysine","sample":"C3","z":-0.95},{"met":"Lysine","sample":"C4","z":-1.05},{"met":"Lysine","sample":"C5","z":-0.95},{"met":"Lysine","sample":"C6","z":-1.1},{"met":"Lysine","sample":"C7","z":-1.1},{"met":"Lysine","sample":"C8","z":-1.0},{"met":"Lysine","sample":"C9","z":-1.1},
{"met":"Glycerophosphoric acid","sample":"C1","z":-1.0},{"met":"Glycerophosphoric acid","sample":"C2","z":-1.15},{"met":"Glycerophosphoric acid","sample":"C3","z":-1.25},{"met":"Glycerophosphoric acid","sample":"C4","z":-0.95},{"met":"Glycerophosphoric acid","sample":"C5","z":-0.95},{"met":"Glycerophosphoric acid","sample":"C6","z":-0.9},{"met":"Glycerophosphoric acid","sample":"C7","z":-1.15},{"met":"Glycerophosphoric acid","sample":"C8","z":-0.8},{"met":"Glycerophosphoric acid","sample":"C9","z":-0.9},
{"met":"Urea","sample":"C1","z":-1.0},{"met":"Urea","sample":"C2","z":-0.95},{"met":"Urea","sample":"C3","z":-1.1},{"met":"Urea","sample":"C4","z":-1.15},{"met":"Urea","sample":"C5","z":-0.8},{"met":"Urea","sample":"C6","z":-1.0},{"met":"Urea","sample":"C7","z":-0.65},{"met":"Urea","sample":"C8","z":-0.95},{"met":"Urea","sample":"C9","z":-0.8},
{"met":"D-Glucose","sample":"C1","z":-0.6},{"met":"D-Glucose","sample":"C2","z":-0.65},{"met":"D-Glucose","sample":"C3","z":-1.2},{"met":"D-Glucose","sample":"C4","z":-0.6},{"met":"D-Glucose","sample":"C5","z":-0.65},{"met":"D-Glucose","sample":"C6","z":-1.15},{"met":"D-Glucose","sample":"C7","z":-1.2},{"met":"D-Glucose","sample":"C8","z":-1.4},{"met":"D-Glucose","sample":"C9","z":-1.15},
{"met":"Ethyl palmitate","sample":"C1","z":-0.3},{"met":"Ethyl palmitate","sample":"C2","z":-1.35},{"met":"Ethyl palmitate","sample":"C3","z":-1.0},{"met":"Ethyl palmitate","sample":"C4","z":-1.05},{"met":"Ethyl palmitate","sample":"C5","z":-1.1},{"met":"Ethyl palmitate","sample":"C6","z":-0.75},{"met":"Ethyl palmitate","sample":"C7","z":-0.9},{"met":"Ethyl palmitate","sample":"C8","z":-0.85},{"met":"Ethyl palmitate","sample":"C9","z":-1.05},
{"met":"Benzaldehyde-para-carboxylic acid","sample":"C1","z":-1.2},{"met":"Benzaldehyde-para-carboxylic acid","sample":"C2","z":-1.3},{"met":"Benzaldehyde-para-carboxylic acid","sample":"C3","z":-1.2},{"met":"Benzaldehyde-para-carboxylic acid","sample":"C4","z":-1.05},{"met":"Benzaldehyde-para-carboxylic acid","sample":"C5","z":-1.1},{"met":"Benzaldehyde-para-carboxylic acid","sample":"C6","z":-1.2},{"met":"Benzaldehyde-para-carboxylic acid","sample":"C7","z":-1.0},{"met":"Benzaldehyde-para-carboxylic acid","sample":"C8","z":-0.85},{"met":"Benzaldehyde-para-carboxylic acid","sample":"C9","z":-0.75},
{"met":"Methyl stearate","sample":"C1","z":-1.3},{"met":"Methyl stearate","sample":"C2","z":-1.1},{"met":"Methyl stearate","sample":"C3","z":-1.05},{"met":"Methyl stearate","sample":"C4","z":-0.95},{"met":"Methyl stearate","sample":"C5","z":-0.9},{"met":"Methyl stearate","sample":"C6","z":-0.75},{"met":"Methyl stearate","sample":"C7","z":-0.85},{"met":"Methyl stearate","sample":"C8","z":-0.7},{"met":"Methyl stearate","sample":"C9","z":-0.7}],
"h_l":[{"met":"D-Mannose","sample":"G1","z":-0.45},{"met":"D-Mannose","sample":"G2","z":-0.45},{"met":"D-Mannose","sample":"G3","z":-0.35},{"met":"D-Mannose","sample":"G4","z":-1.35},{"met":"D-Mannose","sample":"G5","z":-1.05},{"met":"D-Mannose","sample":"G6","z":-1.15},{"met":"D-Mannose","sample":"G7","z":-1.35},{"met":"D-Mannose","sample":"G8","z":-0.85},{"met":"D-Mannose","sample":"G9","z":-1.1},{"met":"D-Mannose","sample":"G10","z":-1.05},
{"met":"Taurine","sample":"G1","z":-1.05},{"met":"Taurine","sample":"G2","z":-1.3},{"met":"Taurine","sample":"G3","z":-1.35},{"met":"Taurine","sample":"G4","z":-0.35},{"met":"Taurine","sample":"G5","z":-0.85},{"met":"Taurine","sample":"G6","z":-0.8},{"met":"Taurine","sample":"G7","z":-1.3},{"met":"Taurine","sample":"G8","z":-1.25},{"met":"Taurine","sample":"G9","z":-1.45},{"met":"Taurine","sample":"G10","z":-1.25},
{"met":"L-Aspartic acid","sample":"G1","z":-0.8},{"met":"L-Aspartic acid","sample":"G2","z":-1.0},{"met":"L-Aspartic acid","sample":"G3","z":-1.2},{"met":"L-Aspartic acid","sample":"G4","z":-0.65},{"met":"L-Aspartic acid","sample":"G5","z":-0.95},{"met":"L-Aspartic acid","sample":"G6","z":-1.0},{"met":"L-Aspartic acid","sample":"G7","z":-0.85},{"met":"L-Aspartic acid","sample":"G8","z":-1.3},{"met":"L-Aspartic acid","sample":"G9","z":-1.3},{"met":"L-Aspartic acid","sample":"G10","z":-1.15}],
"h_r":[{"met":"D-Mannose","sample":"C1","z":1.65},{"met":"D-Mannose","sample":"C2","z":1.85},{"met":"D-Mannose","sample":"C3","z":1.2},{"met":"D-Mannose","sample":"C4","z":1.9},{"met":"D-Mannose","sample":"C5","z":0.65},{"met":"D-Mannose","sample":"C6","z":0.35},{"met":"D-Mannose","sample":"C7","z":0.1},{"met":"D-Mannose","sample":"C8","z":0.1},{"met":"D-Mannose","sample":"C9","z":-0.12},{"met":"D-Mannose","sample":"C10","z":-0.2},
{"met":"Taurine","sample":"C1","z":0.7},{"met":"Taurine","sample":"C2","z":0.95},{"met":"Taurine","sample":"C3","z":0.2},{"met":"Taurine","sample":"C4","z":0.35},{"met":"Taurine","sample":"C5","z":0.85},{"met":"Taurine","sample":"C6","z":0.8},{"met":"Taurine","sample":"C7","z":1.15},{"met":"Taurine","sample":"C8","z":1.45},{"met":"Taurine","sample":"C9","z":1.15},{"met":"Taurine","sample":"C10","z":1.1},
{"met":"L-Aspartic acid","sample":"C1","z":1.3},{"met":"L-Aspartic acid","sample":"C2","z":1.65},{"met":"L-Aspartic acid","sample":"C3","z":1.55},{"met":"L-Aspartic acid","sample":"C4","z":0.75},{"met":"L-Aspartic acid","sample":"C5","z":0.05},{"met":"L-Aspartic acid","sample":"C6","z":1.05},{"met":"L-Aspartic acid","sample":"C7","z":0.9},{"met":"L-Aspartic acid","sample":"C8","z":0.4},{"met":"L-Aspartic acid","sample":"C9","z":0.55},{"met":"L-Aspartic acid","sample":"C10","z":0.5}],
"strip_g":[{"ann":"Treatment","sample":"G1"},{"ann":"Treatment","sample":"G2"},{"ann":"Treatment","sample":"G3"},{"ann":"Treatment","sample":"G4"},{"ann":"Treatment","sample":"G5"},{"ann":"Treatment","sample":"G6"},{"ann":"Treatment","sample":"G7"},{"ann":"Treatment","sample":"G8"},{"ann":"Treatment","sample":"G9"},{"ann":"Treatment","sample":"G10"}],
"strip_c9":[{"ann":"Treatment","sample":"C1"},{"ann":"Treatment","sample":"C2"},{"ann":"Treatment","sample":"C3"},{"ann":"Treatment","sample":"C4"},{"ann":"Treatment","sample":"C5"},{"ann":"Treatment","sample":"C6"},{"ann":"Treatment","sample":"C7"},{"ann":"Treatment","sample":"C8"},{"ann":"Treatment","sample":"C9"}],
"strip_c10":[{"ann":"Treatment","sample":"C1"},{"ann":"Treatment","sample":"C2"},{"ann":"Treatment","sample":"C3"},{"ann":"Treatment","sample":"C4"},{"ann":"Treatment","sample":"C5"},{"ann":"Treatment","sample":"C6"},{"ann":"Treatment","sample":"C7"},{"ann":"Treatment","sample":"C8"},{"ann":"Treatment","sample":"C9"},{"ann":"Treatment","sample":"C10"}],
"g_top":[{"a":0.5,"b":1.5,"h":0.05,"ha":0,"hb":0},{"a":2.5,"b":3.5,"h":0.03,"ha":0,"hb":0},{"a":4.5,"b":5.5,"h":0.035,"ha":0,"hb":0},{"a":6.5,"b":7.5,"h":0.03,"ha":0,"hb":0},{"a":8.5,"b":9.5,"h":0.045,"ha":0,"hb":0},{"a":3,"b":5,"h":0.055,"ha":0.03,"hb":0.035},{"a":7,"b":9,"h":0.07,"ha":0.03,"hb":0.045},{"a":4,"b":8,"h":0.085,"ha":0.055,"hb":0.07},{"a":1,"b":6,"h":0.1,"ha":0.05,"hb":0.085},{"a":10.74,"b":11.74,"h":0.05,"ha":0,"hb":0},{"a":13.74,"b":14.74,"h":0.03,"ha":0,"hb":0},{"a":15.74,"b":16.74,"h":0.035,"ha":0,"hb":0},{"a":17.74,"b":18.74,"h":0.04,"ha":0,"hb":0},{"a":14.24,"b":16.24,"h":0.05,"ha":0.03,"hb":0.035},{"a":15.24,"b":18.24,"h":0.065,"ha":0.05,"hb":0.04},{"a":12.74,"b":16.74,"h":0.075,"ha":0,"hb":0.065},{"a":11.24,"b":14.74,"h":0.146,"ha":0.05,"hb":0.075},{"a":3.5,"b":13.0,"h":1,"ha":0.1,"hb":0.146}],
"g_side":[{"a":0.5,"b":1.5,"h":0.012,"ha":0,"hb":0},{"a":3.5,"b":4.5,"h":0.008,"ha":0,"hb":0},{"a":4,"b":5.5,"h":0.012,"ha":0.008,"hb":0},{"a":2.5,"b":4.75,"h":0.016,"ha":0,"hb":0.012},{"a":1,"b":3.6,"h":0.02,"ha":0.012,"hb":0.016},{"a":7.5,"b":8.5,"h":0.03,"ha":0,"hb":0},{"a":9.5,"b":10.5,"h":0.02,"ha":0,"hb":0},{"a":11.5,"b":12.5,"h":0.02,"ha":0,"hb":0},{"a":10,"b":12,"h":0.03,"ha":0.02,"hb":0.02},{"a":13.5,"b":14.5,"h":0.02,"ha":0,"hb":0},{"a":15.5,"b":16.5,"h":0.015,"ha":0,"hb":0},{"a":14,"b":16,"h":0.03,"ha":0.02,"hb":0.015},{"a":11,"b":15,"h":0.045,"ha":0.03,"hb":0.03},{"a":8,"b":15.1,"h":0.07,"ha":0.03,"hb":0.045},{"a":6.5,"b":11.55,"h":0.09,"ha":0,"hb":0.07},{"a":2.3,"b":9.02,"h":1,"ha":0.02,"hb":0.09}],
"h_top":[{"a":0.5,"b":1.5,"h":0.03,"ha":0,"hb":0},{"a":1,"b":2.5,"h":0.05,"ha":0.03,"hb":0},{"a":5.5,"b":6.5,"h":0.03,"ha":0,"hb":0},{"a":7.5,"b":8.5,"h":0.03,"ha":0,"hb":0},{"a":8,"b":9.5,"h":0.04,"ha":0.03,"hb":0},{"a":6,"b":8.75,"h":0.05,"ha":0.03,"hb":0.04},{"a":4.5,"b":7.4,"h":0.06,"ha":0,"hb":0.05},{"a":3.5,"b":5.95,"h":0.08,"ha":0,"hb":0.06},{"a":1.75,"b":4.72,"h":0.1,"ha":0.05,"hb":0.08},{"a":10.75,"b":11.75,"h":0.03,"ha":0,"hb":0},{"a":12.75,"b":13.75,"h":0.04,"ha":0,"hb":0},{"a":11.25,"b":13.25,"h":0.07,"ha":0.03,"hb":0.04},{"a":15.75,"b":16.75,"h":0.03,"ha":0,"hb":0},{"a":17.75,"b":18.75,"h":0.035,"ha":0,"hb":0},{"a":18.25,"b":19.75,"h":0.05,"ha":0.035,"hb":0},{"a":16.25,"b":19,"h":0.07,"ha":0.03,"hb":0.05},{"a":14.75,"b":17.6,"h":0.09,"ha":0,"hb":0.07},{"a":12.25,"b":16.08,"h":0.29,"ha":0.07,"hb":0.09},{"a":3.2,"b":14.16,"h":1,"ha":0.1,"hb":0.29}],
"h_side":[{"a":1.5,"b":2.5,"h":0.69,"ha":0,"hb":0},{"a":0.5,"b":2.0,"h":1,"ha":0,"hb":0.69}]
},
"spacing":0,"bounds":"flush",
"resolve":{"scale":{"color":"independent","shape":"independent","size":"independent","opacity":"independent"},"legend":{"color":"independent","shape":"independent","size":"independent","opacity":"independent"}},
"hconcat":[
{"width":29,"height":1,"data":{"name":"one"},"mark":{"type":"rect","opacity":0},"encoding":{}},
{"vconcat":[{"width":1,"height":115,"data":{"name":"one"},"mark":{"type":"rect","opacity":0},"encoding":{}},{"width":1,"height":1,"data":{"values":[{"letter":"a"}]},"mark":{"type":"text","fontSize":115,"align":"left","baseline":"alphabetic"},"encoding":{"text":{"field":"letter"},"x":{"value":0},"y":{"value":0}}}],"spacing":0,"bounds":"flush"},
{"vconcat":[{"width":1,"height":997,"data":{"name":"one"},"mark":{"type":"rect","opacity":0},"encoding":{}},{"width":1,"height":1,"data":{"values":[{"letter":"d"}]},"mark":{"type":"text","fontSize":115,"align":"left","baseline":"alphabetic"},"encoding":{"text":{"field":"letter"},"x":{"value":0},"y":{"value":0}}}],"spacing":0,"bounds":"flush"},
{"width":18,"height":1,"data":{"name":"one"},"mark":{"type":"rect","opacity":0},"encoding":{}},
{"vconcat":[{"width":1,"height":1889,"data":{"name":"one"},"mark":{"type":"rect","opacity":0},"encoding":{}},{"width":1,"height":1,"data":{"values":[{"letter":"f"}]},"mark":{"type":"text","fontSize":115,"align":"left","baseline":"alphabetic"},"encoding":{"text":{"field":"letter"},"x":{"value":0},"y":{"value":0}}}],"spacing":0,"bounds":"flush"},
{"width":98,"height":1,"data":{"name":"one"},"mark":{"type":"rect","opacity":0},"encoding":{}},
{"vconcat":[{"width":1,"height":1013,"data":{"name":"one"},"mark":{"type":"rect","opacity":0},"encoding":{}},
{"width":642,"height":593,"encoding":{"x":{"field":"x","type":"quantitative","title":"log2(FC)","scale":{"domain":[-5.24,2.75],"nice":false,"zero":false},"axis":{"values":[-5,-2.5,0,2.5],"labelExpr":"replace(format(datum.value,'.1f'),'−','-')","titlePadding":6}},"y":{"field":"y","type":"quantitative","title":"-log10(p)","scale":{"domain":[-0.65,14.5],"nice":false,"zero":false},"axis":{"values":[0,5,10],"titlePadding":14}}},
"layer":[{"data":{"name":"d_vol"},"mark":{"type":"circle"},"encoding":{"color":{"field":"group","type":"nominal","scale":{"domain":["Down","Up"],"range":["#3B4992","#EE0000"]},"legend":null},"opacity":{"field":"sig","type":"nominal","scale":{"domain":["no","yes"],"range":[0.12,1]},"legend":null},"size":{"field":"y","type":"quantitative","scale":{"type":"pow","exponent":0.8,"domain":[0,9],"range":[30,1100],"clamp":true},"legend":null}}},
{"data":{"values":[{"x":-1},{"x":1}]},"mark":{"type":"rule","strokeDash":[12,8],"strokeWidth":2.5,"color":"#222222"},"encoding":{"y":{"value":0},"y2":{"value":593}}},
{"data":{"values":[{"y":1.3}]},"mark":{"type":"rule","strokeDash":[9,5],"strokeWidth":3.5,"color":"#222222"},"encoding":{"x":{"value":0},"x2":{"value":642}}},
{"data":{"name":"d_lab"},"mark":{"type":"text","fontSize":29,"color":"#000000"},"encoding":{"text":{"field":"label"}}}]}],"spacing":0,"bounds":"flush","resolve":{"scale":{"color":"independent","size":"independent","opacity":"independent"},"legend":{"color":"independent","size":"independent","opacity":"independent"}}},
{"width":5,"height":1,"data":{"name":"one"},"mark":{"type":"rect","opacity":0},"encoding":{}},
{"vconcat":[{"width":1,"height":1750,"data":{"name":"one"},"mark":{"type":"rect","opacity":0},"encoding":{}},
{"width":1420,"height":600,"encoding":{"x":{"field":"x","type":"quantitative","axis":null,"scale":{"domain":[-2.176,2.72],"nice":false,"zero":false}},"y":{"field":"y","type":"quantitative","axis":null,"scale":{"domain":[-1.031,1.038],"nice":false,"zero":false}}},
"layer":[{"data":{"name":"venn"},"transform":[{"filter":"datum.n===17"}],"mark":{"type":"circle","color":"#A0A5BC","fillOpacity":1,"stroke":"#222222","strokeWidth":2.5},"encoding":{"size":{"field":"n","type":"quantitative","scale":{"domain":[3,17],"range":[66000,330000],"zero":false},"legend":null}}},
{"data":{"name":"venn"},"transform":[{"filter":"datum.n===3"}],"mark":{"type":"circle","color":"#EE0000","fillOpacity":0.45,"stroke":"#222222","strokeWidth":2.5},"encoding":{"size":{"field":"n","type":"quantitative","scale":{"domain":[3,17],"range":[66000,330000],"zero":false},"legend":null}}},
{"data":{"name":"venn_lab"},"transform":[{"filter":"datum.kind==='name'"}],"mark":{"type":"text","fontSize":52,"color":"#000000"},"encoding":{"text":{"field":"label"}}},
{"data":{"name":"venn_lab"},"transform":[{"filter":"datum.kind==='count'"}],"mark":{"type":"text","fontSize":70,"color":"#000000"},"encoding":{"text":{"field":"label"}}}]}],"spacing":0,"bounds":"flush","resolve":{"scale":{"size":"independent"},"legend":{"size":"independent"}}},
{"width":7,"height":1,"data":{"name":"one"},"mark":{"type":"rect","opacity":0},"encoding":{}},
{"vconcat":[{"width":1,"height":115,"data":{"name":"one"},"mark":{"type":"rect","opacity":0},"encoding":{}},
{"width":503,"height":645,"encoding":{"x":{"field":"x","type":"quantitative","title":"PC1 (44.55%)","scale":{"domain":[-14.6,10],"nice":false,"zero":false},"axis":{"values":[-10,-5,0,5,10],"labelExpr":"''+datum.value","titlePadding":6}},"y":{"field":"y","type":"quantitative","title":"PC2 (30.2%)","scale":{"domain":[-12.5,8.3],"nice":false,"zero":false},"axis":{"values":[-10,-5,0,5],"labelExpr":"''+datum.value","titlePadding":11}},"color":{"field":"series","type":"nominal","scale":{"domain":["CON-12h","CON-24h","GNR-L-12h","GNR-L-24h"],"range":["#3B4992","#EE0000","#008B45","#631879"]},"legend":null}},
"layer":[{"data":{"name":"a_ell"},"transform":[{"filter":"datum.series==='GNR-L-12h'"}],"mark":{"type":"line","interpolate":"catmull-rom-closed","strokeWidth":3,"fill":"#008B45","fillOpacity":0.1},"encoding":{"order":{"field":"i"}}},
{"data":{"name":"a_ell"},"transform":[{"filter":"datum.series==='GNR-L-24h'"}],"mark":{"type":"line","interpolate":"catmull-rom-closed","strokeWidth":3,"fill":"#631879","fillOpacity":0.1},"encoding":{"order":{"field":"i"}}},
{"data":{"name":"a_ell"},"transform":[{"filter":"datum.series==='CON-24h'"}],"mark":{"type":"line","interpolate":"catmull-rom-closed","strokeWidth":3,"fill":"#EE0000","fillOpacity":0.1},"encoding":{"order":{"field":"i"}}},
{"data":{"name":"a_ell"},"transform":[{"filter":"datum.series==='CON-12h'"}],"mark":{"type":"line","interpolate":"catmull-rom-closed","strokeWidth":3,"fill":"#3B4992","fillOpacity":0.1},"encoding":{"order":{"field":"i"}}},
{"data":{"name":"a_pts"},"mark":{"type":"rule","strokeWidth":3},"encoding":{"y":{"value":645},"y2":{"value":624}}},
{"data":{"name":"a_pts"},"mark":{"type":"rule","strokeWidth":3},"encoding":{"x":{"value":0},"x2":{"value":19}}},
{"data":{"name":"a_pts"},"transform":[{"filter":"datum.series!=='GNR-L-24h'"}],"mark":{"type":"point","filled":true,"size":270,"opacity":1},"encoding":{"shape":{"field":"series","type":"nominal","scale":{"domain":["CON-12h","CON-24h","GNR-L-12h"],"range":["circle","triangle-up","square"]},"legend":null}}},
{"data":{"name":"a_pts"},"transform":[{"filter":"datum.series==='GNR-L-24h'"}],"mark":{"type":"point","filled":false,"shape":"M-1,0L1,0M0,-1L0,1","size":300,"strokeWidth":1.5,"opacity":1}},
{"data":{"name":"a_lab"},"mark":{"type":"text","fontSize":25},"encoding":{"text":{"field":"label"}}}]}],"spacing":0,"bounds":"flush","resolve":{"scale":{"color":"independent","shape":"independent"},"legend":{"color":"independent","shape":"independent"}}},
{"width":553,"height":1,"data":{"name":"one"},"mark":{"type":"rect","opacity":0},"encoding":{}},
{"vconcat":[{"width":1,"height":373,"data":{"name":"one"},"mark":{"type":"rect","opacity":0},"encoding":{}},
{"width":300,"height":186,"encoding":{"y":{"field":"series","type":"nominal","axis":null,"sort":null,"scale":{"paddingInner":0.05,"paddingOuter":0}},"color":{"field":"series","type":"nominal","scale":{"domain":["CON-12h","CON-24h","GNR-L-12h","GNR-L-24h"],"range":["#3B4992","#EE0000","#008B45","#631879"]},"legend":null}},
"layer":[{"data":{"name":"leg4"},"mark":{"type":"rect","fillOpacity":0.1},"encoding":{"x":{"value":0},"x2":{"value":44}}},
{"data":{"name":"leg4"},"mark":{"type":"rect","filled":false,"strokeWidth":2.5},"encoding":{"x":{"value":0},"x2":{"value":44}}},
{"data":{"name":"leg4"},"mark":{"type":"rule","strokeWidth":3},"encoding":{"x":{"value":4},"x2":{"value":40}}},
{"data":{"name":"leg4"},"mark":{"type":"point","filled":true,"size":210,"opacity":1},"encoding":{"x":{"value":22},"shape":{"field":"series","type":"nominal","scale":{"domain":["CON-12h","CON-24h","GNR-L-12h","GNR-L-24h"],"range":["circle","triangle-up","square","cross"]},"legend":null}}},
{"data":{"name":"leg4"},"mark":{"type":"text","fontSize":37,"align":"left","color":"#000000"},"encoding":{"x":{"value":65},"text":{"field":"series"},"color":{"value":"#000000"}}},
{"data":{"values":[{"t":"Treatment"}]},"mark":{"type":"text","fontSize":37,"align":"left","baseline":"middle"},"encoding":{"x":{"value":0},"y":{"value":-36},"text":{"field":"t"},"color":{"value":"#000000"}}}]}],"spacing":0,"bounds":"flush","resolve":{"scale":{"color":"independent","shape":"independent"},"legend":{"color":"independent","shape":"independent"}}},
{"width":217,"height":1,"data":{"name":"one"},"mark":{"type":"rect","opacity":0},"encoding":{}},
{"vconcat":[{"width":1,"height":997,"data":{"name":"one"},"mark":{"type":"rect","opacity":0},"encoding":{}},{"width":1,"height":1,"data":{"values":[{"letter":"e"}]},"mark":{"type":"text","fontSize":115,"align":"left","baseline":"alphabetic"},"encoding":{"text":{"field":"letter"},"x":{"value":0},"y":{"value":0}}}],"spacing":0,"bounds":"flush"},
{"width":119,"height":1,"data":{"name":"one"},"mark":{"type":"rect","opacity":0},"encoding":{}},
{"vconcat":[{"width":1,"height":1038,"data":{"name":"one"},"mark":{"type":"rect","opacity":0},"encoding":{}},
{"width":631,"height":593,"encoding":{"x":{"field":"x","type":"quantitative","title":"log2(FC)","scale":{"domain":[-1.82,1.13],"nice":false,"zero":false},"axis":{"values":[-1,0,1],"labelExpr":"''+datum.value","titlePadding":6}},"y":{"field":"y","type":"quantitative","title":"-log10(p)","scale":{"domain":[-0.45,9.8],"nice":false,"zero":false},"axis":{"values":[0,2.5,5,7.5],"format":".1f","titlePadding":14}}},
"layer":[{"data":{"name":"e_vol"},"mark":{"type":"circle"},"encoding":{"color":{"field":"group","type":"nominal","scale":{"domain":["Down","Up"],"range":["#3B4992","#EE0000"]},"legend":null},"opacity":{"field":"sig","type":"nominal","scale":{"domain":["no","yes"],"range":[0.12,1]},"legend":null},"size":{"field":"y","type":"quantitative","scale":{"type":"pow","exponent":0.8,"domain":[0,9],"range":[30,1100],"clamp":true},"legend":null}}},
{"data":{"values":[{"x":-1},{"x":1}]},"mark":{"type":"rule","strokeDash":[12,8],"strokeWidth":2.5,"color":"#222222"},"encoding":{"y":{"value":7},"y2":{"value":593}}},
{"data":{"values":[{"y":1.3}]},"mark":{"type":"rule","strokeDash":[9,5],"strokeWidth":3.5,"color":"#222222"},"encoding":{"x":{"value":0},"x2":{"value":631}}},
{"data":{"name":"e_lab"},"mark":{"type":"text","fontSize":29,"color":"#000000"},"encoding":{"text":{"field":"label"}}}]}],"spacing":0,"bounds":"flush","resolve":{"scale":{"color":"independent","size":"independent","opacity":"independent"},"legend":{"color":"independent","size":"independent","opacity":"independent"}}},
{"width":87,"height":1,"data":{"name":"one"},"mark":{"type":"rect","opacity":0},"encoding":{}},
{"vconcat":[{"width":1,"height":115,"data":{"name":"one"},"mark":{"type":"rect","opacity":0},"encoding":{}},{"width":1,"height":1,"data":{"values":[{"letter":"b"}]},"mark":{"type":"text","fontSize":115,"align":"left","baseline":"alphabetic"},"encoding":{"text":{"field":"letter"},"x":{"value":0},"y":{"value":0}}}],"spacing":0,"bounds":"flush"},
{"width":144.5,"height":1,"data":{"name":"one"},"mark":{"type":"rect","opacity":0},"encoding":{}},
{"vconcat":[{"width":1,"height":115,"data":{"name":"one"},"mark":{"type":"rect","opacity":0},"encoding":{}},
{"width":519,"height":645,"encoding":{"x":{"field":"x","type":"quantitative","title":"PC1 (66.74%)","scale":{"domain":[-11.77,10.2],"nice":false,"zero":false},"axis":{"values":[-10,-5,0,5,10],"labelExpr":"''+datum.value","titlePadding":6}},"y":{"field":"y","type":"quantitative","title":"PC2 (11.69%)","scale":{"domain":[-8.58,9.1],"nice":false,"zero":false},"axis":{"values":[-5,0,5],"labelExpr":"''+datum.value","titlePadding":15}},"color":{"field":"series","type":"nominal","scale":{"domain":["CON-12h","GNR-L-12h"],"range":["#3B4992","#EE0000"]},"legend":null}},
"layer":[{"data":{"name":"b_ell"},"transform":[{"filter":"datum.series==='CON-12h'"}],"mark":{"type":"line","interpolate":"catmull-rom-closed","strokeWidth":3,"fill":"#3B4992","fillOpacity":0.1},"encoding":{"order":{"field":"i"}}},
{"data":{"name":"b_ell"},"transform":[{"filter":"datum.series==='GNR-L-12h'"}],"mark":{"type":"line","interpolate":"catmull-rom-closed","strokeWidth":3,"fill":"#EE0000","fillOpacity":0.1},"encoding":{"order":{"field":"i"}}},
{"data":{"name":"b_pts"},"mark":{"type":"rule","strokeWidth":3},"encoding":{"y":{"value":645},"y2":{"value":624}}},
{"data":{"name":"b_pts"},"mark":{"type":"rule","strokeWidth":3},"encoding":{"x":{"value":0},"x2":{"value":19}}},
{"data":{"name":"b_pts"},"mark":{"type":"point","filled":true,"size":270,"opacity":1},"encoding":{"shape":{"field":"series","type":"nominal","scale":{"domain":["CON-12h","GNR-L-12h"],"range":["circle","triangle-up"]},"legend":null}}},
{"data":{"name":"b_lab"},"mark":{"type":"text","fontSize":25},"encoding":{"text":{"field":"label"}}}]}],"spacing":0,"bounds":"flush","resolve":{"scale":{"color":"independent","shape":"independent"},"legend":{"color":"independent","shape":"independent"}}},
{"width":546.5,"height":1,"data":{"name":"one"},"mark":{"type":"rect","opacity":0},"encoding":{}},
{"vconcat":[{"width":1,"height":996,"data":{"name":"one"},"mark":{"type":"rect","opacity":0},"encoding":{}},{"width":1,"height":1,"data":{"values":[{"letter":"g"}]},"mark":{"type":"text","fontSize":115,"align":"left","baseline":"alphabetic"},"encoding":{"text":{"field":"letter"},"x":{"value":0},"y":{"value":0}}}],"spacing":0,"bounds":"flush"},
{"width":1,"height":1,"data":{"name":"one"},"mark":{"type":"rect","opacity":0},"encoding":{}},
{"vconcat":[{"width":1,"height":1977,"data":{"name":"one"},"mark":{"type":"rect","opacity":0},"encoding":{}},{"width":1,"height":1,"data":{"values":[{"letter":"h"}]},"mark":{"type":"text","fontSize":115,"align":"left","baseline":"alphabetic"},"encoding":{"text":{"field":"letter"},"x":{"value":0},"y":{"value":0}}}],"spacing":0,"bounds":"flush"},
{"width":23,"height":1,"data":{"name":"one"},"mark":{"type":"rect","opacity":0},"encoding":{}},
{"vconcat":[{"width":1,"height":418,"data":{"name":"one"},"mark":{"type":"rect","opacity":0},"encoding":{}},
{"width":300,"height":93,"encoding":{"y":{"field":"series","type":"nominal","axis":null,"sort":null,"scale":{"paddingInner":0.05,"paddingOuter":0}},"color":{"field":"series","type":"nominal","scale":{"domain":["CON-12h","GNR-L-12h"],"range":["#3B4992","#EE0000"]},"legend":null}},
"data":{"values":[{"series":"CON-12h"},{"series":"GNR-L-12h"}]},
"layer":[{"mark":{"type":"rect","fillOpacity":0.1},"encoding":{"x":{"value":0},"x2":{"value":44}}},
{"mark":{"type":"rect","filled":false,"strokeWidth":2.5},"encoding":{"x":{"value":0},"x2":{"value":44}}},
{"mark":{"type":"rule","strokeWidth":3},"encoding":{"x":{"value":4},"x2":{"value":40}}},
{"mark":{"type":"point","filled":true,"size":210,"opacity":1},"encoding":{"x":{"value":22},"shape":{"field":"series","type":"nominal","scale":{"domain":["CON-12h","GNR-L-12h"],"range":["circle","triangle-up"]},"legend":null}}},
{"mark":{"type":"text","fontSize":37,"align":"left"},"encoding":{"x":{"value":65},"text":{"field":"series"},"color":{"value":"#000000"}}},
{"data":{"values":[{"t":"Treatment"}]},"mark":{"type":"text","fontSize":37,"align":"left","baseline":"middle"},"encoding":{"x":{"value":0},"y":{"value":-34},"text":{"field":"t"},"color":{"value":"#000000"}}}]}],"spacing":0,"bounds":"flush","resolve":{"scale":{"color":"independent","shape":"independent"},"legend":{"color":"independent","shape":"independent"}}},
{"width":7.5,"height":1,"data":{"name":"one"},"mark":{"type":"rect","opacity":0},"encoding":{}},
{"vconcat":[{"width":1,"height":2107,"data":{"name":"one"},"mark":{"type":"rect","opacity":0},"encoding":{}},
{"width":120.5,"height":134,"data":{"name":"h_side"},"layer":[
{"mark":{"type":"rule","color":"#333333","strokeWidth":2},"encoding":{"y":{"field":"a","type":"quantitative","axis":null,"scale":{"domain":[3,0],"nice":false,"zero":false}},"y2":{"field":"b"},"x":{"field":"h","type":"quantitative","axis":null,"scale":{"domain":[1,0],"nice":false,"zero":false}}}},
{"mark":{"type":"rule","color":"#333333","strokeWidth":2},"encoding":{"y":{"field":"a","type":"quantitative","axis":null,"scale":{"domain":[3,0],"nice":false,"zero":false}},"x":{"field":"h","type":"quantitative","axis":null,"scale":{"domain":[1,0],"nice":false,"zero":false}},"x2":{"field":"ha"}}},
{"mark":{"type":"rule","color":"#333333","strokeWidth":2},"encoding":{"y":{"field":"b","type":"quantitative","axis":null,"scale":{"domain":[3,0],"nice":false,"zero":false}},"x":{"field":"h","type":"quantitative","axis":null,"scale":{"domain":[1,0],"nice":false,"zero":false}},"x2":{"field":"hb"}}}]}],"spacing":0,"bounds":"flush"},
{"width":3.5,"height":1,"data":{"name":"one"},"mark":{"type":"rect","opacity":0},"encoding":{}},
{"vconcat":[{"width":1,"height":1089,"data":{"name":"one"},"mark":{"type":"rect","opacity":0},"encoding":{}},
{"width":119.5,"height":738,"data":{"name":"g_side"},"layer":[
{"mark":{"type":"rule","color":"#333333","strokeWidth":2},"encoding":{"y":{"field":"a","type":"quantitative","axis":null,"scale":{"domain":[17,0],"nice":false,"zero":false}},"y2":{"field":"b"},"x":{"field":"h","type":"quantitative","axis":null,"scale":{"domain":[1,0],"nice":false,"zero":false}}}},
{"mark":{"type":"rule","color":"#333333","strokeWidth":2},"encoding":{"y":{"field":"a","type":"quantitative","axis":null,"scale":{"domain":[17,0],"nice":false,"zero":false}},"x":{"field":"h","type":"quantitative","axis":null,"scale":{"domain":[1,0],"nice":false,"zero":false}},"x2":{"field":"ha"}}},
{"mark":{"type":"rule","color":"#333333","strokeWidth":2},"encoding":{"y":{"field":"b","type":"quantitative","axis":null,"scale":{"domain":[17,0],"nice":false,"zero":false}},"x":{"field":"h","type":"quantitative","axis":null,"scale":{"domain":[1,0],"nice":false,"zero":false}},"x2":{"field":"hb"}}}]}],"spacing":0,"bounds":"flush"},
{"width":117,"height":1,"data":{"name":"one"},"mark":{"type":"rect","opacity":0},"encoding":{}},
{"vconcat":[{"width":1,"height":1946,"data":{"name":"one"},"mark":{"type":"rect","opacity":0},"encoding":{}},
{"width":1102.4,"height":122,"data":{"name":"h_top"},"layer":[
{"mark":{"type":"rule","color":"#333333","strokeWidth":2},"encoding":{"x":{"field":"a","type":"quantitative","axis":null,"scale":{"domain":[0,20.25],"nice":false,"zero":false}},"x2":{"field":"b"},"y":{"field":"h","type":"quantitative","axis":null,"scale":{"domain":[0,1],"nice":false,"zero":false}}}},
{"mark":{"type":"rule","color":"#333333","strokeWidth":2},"encoding":{"x":{"field":"a","type":"quantitative","axis":null,"scale":{"domain":[0,20.25],"nice":false,"zero":false}},"y":{"field":"h","type":"quantitative","axis":null,"scale":{"domain":[0,1],"nice":false,"zero":false}},"y2":{"field":"ha"}}},
{"mark":{"type":"rule","color":"#333333","strokeWidth":2},"encoding":{"x":{"field":"b","type":"quantitative","axis":null,"scale":{"domain":[0,20.25],"nice":false,"zero":false}},"y":{"field":"h","type":"quantitative","axis":null,"scale":{"domain":[0,1],"nice":false,"zero":false}},"y2":{"field":"hb"}}}]}],"spacing":0,"bounds":"flush"},
{"vconcat":[{"width":1,"height":2068,"data":{"name":"one"},"mark":{"type":"rect","opacity":0},"encoding":{}},
{"width":544.5,"height":30,"data":{"name":"strip_g"},"mark":{"type":"rect","stroke":"#000000","strokeWidth":2},"encoding":{"x":{"field":"sample","type":"nominal","axis":null,"sort":null,"scale":{"paddingInner":0,"paddingOuter":0}},"y":{"field":"ann","type":"nominal","axis":null},"color":{"value":"#FF9289"}}}],"spacing":0,"bounds":"flush"},
{"vconcat":[{"width":1,"height":2107,"data":{"name":"one"},"mark":{"type":"rect","opacity":0},"encoding":{}},
{"width":544.5,"height":134,"data":{"name":"h_l"},"mark":{"type":"rect","stroke":"#000000","strokeWidth":2},"encoding":{"x":{"field":"sample","type":"nominal","axis":null,"sort":null,"scale":{"paddingInner":0,"paddingOuter":0}},"y":{"field":"met","type":"nominal","axis":null,"sort":null,"scale":{"paddingInner":0,"paddingOuter":0}},"color":{"field":"z","type":"quantitative","scale":{"domain":[-1.95,0,1.95],"range":["#000080","#FFFFFF","#CD2626"],"interpolate":"rgb"},"legend":null}}}],"spacing":0,"bounds":"flush","resolve":{"scale":{"color":"independent"},"legend":{"color":"independent"}}},
{"width":2.5,"height":1,"data":{"name":"one"},"mark":{"type":"rect","opacity":0},"encoding":{}},
{"vconcat":[{"width":1,"height":922,"data":{"name":"one"},"mark":{"type":"rect","opacity":0},"encoding":{}},
{"width":1047,"height":125,"data":{"name":"g_top"},"layer":[
{"mark":{"type":"rule","color":"#333333","strokeWidth":2},"encoding":{"x":{"field":"a","type":"quantitative","axis":null,"scale":{"domain":[0,19.24],"nice":false,"zero":false}},"x2":{"field":"b"},"y":{"field":"h","type":"quantitative","axis":null,"scale":{"domain":[0,1],"nice":false,"zero":false}}}},
{"mark":{"type":"rule","color":"#333333","strokeWidth":2},"encoding":{"x":{"field":"a","type":"quantitative","axis":null,"scale":{"domain":[0,19.24],"nice":false,"zero":false}},"y":{"field":"h","type":"quantitative","axis":null,"scale":{"domain":[0,1],"nice":false,"zero":false}},"y2":{"field":"ha"}}},
{"mark":{"type":"rule","color":"#333333","strokeWidth":2},"encoding":{"x":{"field":"b","type":"quantitative","axis":null,"scale":{"domain":[0,19.24],"nice":false,"zero":false}},"y":{"field":"h","type":"quantitative","axis":null,"scale":{"domain":[0,1],"nice":false,"zero":false}},"y2":{"field":"hb"}}}]}],"spacing":0,"bounds":"flush"},
{"vconcat":[{"width":1,"height":1047,"data":{"name":"one"},"mark":{"type":"rect","opacity":0},"encoding":{}},
{"width":544.5,"height":31,"data":{"name":"strip_g"},"mark":{"type":"rect","stroke":"#000000","strokeWidth":2},"encoding":{"x":{"field":"sample","type":"nominal","axis":null,"sort":null,"scale":{"paddingInner":0,"paddingOuter":0}},"y":{"field":"ann","type":"nominal","axis":null},"color":{"value":"#FF9289"}}}],"spacing":0,"bounds":"flush"},
{"vconcat":[{"width":1,"height":1089,"data":{"name":"one"},"mark":{"type":"rect","opacity":0},"encoding":{}},
{"width":544.5,"height":738,"data":{"name":"g_l"},"mark":{"type":"rect","stroke":"#000000","strokeWidth":2},"encoding":{"x":{"field":"sample","type":"nominal","axis":null,"sort":null,"scale":{"paddingInner":0,"paddingOuter":0}},"y":{"field":"met","type":"nominal","axis":null,"sort":null,"scale":{"paddingInner":0,"paddingOuter":0}},"color":{"field":"z","type":"quantitative","scale":{"domain":[-2.65,0,2.65],"range":["#000080","#FFFFFF","#CD2626"],"interpolate":"rgb"},"legend":null}}}],"spacing":0,"bounds":"flush","resolve":{"scale":{"color":"independent"},"legend":{"color":"independent"}}},
{"width":298.5,"height":1,"data":{"name":"one"},"mark":{"type":"rect","opacity":0},"encoding":{}},
{"vconcat":[{"width":1,"height":115,"data":{"name":"one"},"mark":{"type":"rect","opacity":0},"encoding":{}},{"width":1,"height":1,"data":{"values":[{"letter":"c"}]},"mark":{"type":"text","fontSize":115,"align":"left","baseline":"alphabetic"},"encoding":{"text":{"field":"letter"},"x":{"value":0},"y":{"value":0}}}],"spacing":0,"bounds":"flush"},
{"width":157.6,"height":1,"data":{"name":"one"},"mark":{"type":"rect","opacity":0},"encoding":{}},
{"vconcat":[{"width":1,"height":115,"data":{"name":"one"},"mark":{"type":"rect","opacity":0},"encoding":{}},
{"width":500,"height":645,"encoding":{"x":{"field":"x","type":"quantitative","title":"PC1 (32.37%)","scale":{"domain":[-11.25,11.9],"nice":false,"zero":false},"axis":{"values":[-10,-5,0,5,10],"labelExpr":"''+datum.value","titlePadding":6}},"y":{"field":"y","type":"quantitative","title":"PC2 (25.06%)","scale":{"domain":[-11.05,10.75],"nice":false,"zero":false},"axis":{"values":[-10,-5,0,5,10],"labelExpr":"''+datum.value","titlePadding":16}},"color":{"field":"series","type":"nominal","scale":{"domain":["CON-24h","GNR-L-24h"],"range":["#3B4992","#EE0000"]},"legend":null}},
"layer":[{"data":{"name":"c_ell"},"transform":[{"filter":"datum.series==='CON-24h'"}],"mark":{"type":"line","interpolate":"catmull-rom-closed","strokeWidth":3,"fill":"#3B4992","fillOpacity":0.1},"encoding":{"order":{"field":"i"}}},
{"data":{"name":"c_ell"},"transform":[{"filter":"datum.series==='GNR-L-24h'"}],"mark":{"type":"line","interpolate":"catmull-rom-closed","strokeWidth":3,"fill":"#EE0000","fillOpacity":0.1},"encoding":{"order":{"field":"i"}}},
{"data":{"name":"c_pts"},"mark":{"type":"rule","strokeWidth":3},"encoding":{"y":{"value":645},"y2":{"value":624}}},
{"data":{"name":"c_pts"},"mark":{"type":"rule","strokeWidth":3},"encoding":{"x":{"value":0},"x2":{"value":19}}},
{"data":{"name":"c_pts"},"mark":{"type":"point","filled":true,"size":270,"opacity":1},"encoding":{"shape":{"field":"series","type":"nominal","scale":{"domain":["CON-24h","GNR-L-24h"],"range":["circle","triangle-up"]},"legend":null}}},
{"data":{"name":"c_lab"},"mark":{"type":"text","fontSize":25},"encoding":{"text":{"field":"label"}}}]}],"spacing":0,"bounds":"flush","resolve":{"scale":{"color":"independent","shape":"independent"},"legend":{"color":"independent","shape":"independent"}}},
{"width":99.1,"height":1,"data":{"name":"one"},"mark":{"type":"rect","opacity":0},"encoding":{}},
{"vconcat":[{"width":1,"height":2068,"data":{"name":"one"},"mark":{"type":"rect","opacity":0},"encoding":{}},
{"width":544.7,"height":30,"data":{"name":"strip_c10"},"mark":{"type":"rect","stroke":"#000000","strokeWidth":2},"encoding":{"x":{"field":"sample","type":"nominal","axis":null,"sort":null,"scale":{"paddingInner":0,"paddingOuter":0}},"y":{"field":"ann","type":"nominal","title":null,"axis":{"orient":"right","ticks":false,"domain":false,"labelFontSize":29,"labelFontWeight":"bold","labelPadding":10,"labelColor":"#000000"}},"color":{"value":"#00DAE0"}}}],"spacing":0,"bounds":"flush"},
{"vconcat":[{"width":1,"height":2107,"data":{"name":"one"},"mark":{"type":"rect","opacity":0},"encoding":{}},
{"width":544.7,"height":134,"data":{"name":"h_r"},"mark":{"type":"rect","stroke":"#000000","strokeWidth":2},"encoding":{"x":{"field":"sample","type":"nominal","axis":null,"sort":null,"scale":{"paddingInner":0,"paddingOuter":0}},"y":{"field":"met","type":"nominal","title":null,"sort":null,"scale":{"paddingInner":0,"paddingOuter":0},"axis":{"orient":"right","ticks":false,"domain":false,"labelFontSize":29,"labelPadding":10,"labelLimit":1000,"labelColor":"#000000"}},"color":{"field":"z","type":"quantitative","scale":{"domain":[-1.95,0,1.95],"range":["#000080","#FFFFFF","#CD2626"],"interpolate":"rgb"},"legend":{"orient":"none","legendX":981,"legendY":-57,"title":null,"direction":"vertical","gradientLength":188,"gradientThickness":34,"values":[-1.5,-1,-0.5,0,0.5,1,1.5],"labelExpr":"''+datum.value","labelOverlap":false,"labelFontSize":26,"labelFont":"Liberation Sans","labelColor":"#000000"}}}}],"spacing":0,"bounds":"flush","resolve":{"scale":{"color":"independent"},"legend":{"color":"independent"}}},
{"width":2.3,"height":1,"data":{"name":"one"},"mark":{"type":"rect","opacity":0},"encoding":{}},
{"vconcat":[{"width":1,"height":1047,"data":{"name":"one"},"mark":{"type":"rect","opacity":0},"encoding":{}},
{"width":489.6,"height":31,"data":{"name":"strip_c9"},"mark":{"type":"rect","stroke":"#000000","strokeWidth":2},"encoding":{"x":{"field":"sample","type":"nominal","axis":null,"sort":null,"scale":{"paddingInner":0,"paddingOuter":0}},"y":{"field":"ann","type":"nominal","title":null,"axis":{"orient":"right","ticks":false,"domain":false,"labelFontSize":29,"labelFontWeight":"bold","labelPadding":10,"labelColor":"#000000"}},"color":{"value":"#00DAE0"}}}],"spacing":0,"bounds":"flush"},
{"vconcat":[{"width":1,"height":1089,"data":{"name":"one"},"mark":{"type":"rect","opacity":0},"encoding":{}},
{"width":489.6,"height":738,"data":{"name":"g_r"},"mark":{"type":"rect","stroke":"#000000","strokeWidth":2},"encoding":{"x":{"field":"sample","type":"nominal","axis":null,"sort":null,"scale":{"paddingInner":0,"paddingOuter":0}},"y":{"field":"met","type":"nominal","title":null,"sort":null,"scale":{"paddingInner":0,"paddingOuter":0},"axis":{"orient":"right","ticks":false,"domain":false,"labelFontSize":29,"labelPadding":10,"labelLimit":1000,"labelColor":"#000000"}},"color":{"field":"z","type":"quantitative","scale":{"domain":[-2.65,0,2.65],"range":["#000080","#FFFFFF","#CD2626"],"interpolate":"rgb"},"legend":{"orient":"none","legendX":976,"legendY":-45,"title":null,"direction":"vertical","gradientLength":543,"gradientThickness":37,"values":[-2,-1,0,1,2],"labelExpr":"''+datum.value","labelFontSize":28,"labelFont":"Liberation Sans","labelColor":"#000000"}}}}],"spacing":0,"bounds":"flush","resolve":{"scale":{"color":"independent"},"legend":{"color":"independent"}}},
{"width":449,"height":1,"data":{"name":"one"},"mark":{"type":"rect","opacity":0},"encoding":{}},
{"vconcat":[{"width":1,"height":418,"data":{"name":"one"},"mark":{"type":"rect","opacity":0},"encoding":{}},
{"width":300,"height":93,"encoding":{"y":{"field":"series","type":"nominal","axis":null,"sort":null,"scale":{"paddingInner":0.05,"paddingOuter":0}},"color":{"field":"series","type":"nominal","scale":{"domain":["CON-24h","GNR-L-24h"],"range":["#3B4992","#EE0000"]},"legend":null}},
"data":{"values":[{"series":"CON-24h"},{"series":"GNR-L-24h"}]},
"layer":[{"mark":{"type":"rect","fillOpacity":0.1},"encoding":{"x":{"value":0},"x2":{"value":44}}},
{"mark":{"type":"rect","filled":false,"strokeWidth":2.5},"encoding":{"x":{"value":0},"x2":{"value":44}}},
{"mark":{"type":"rule","strokeWidth":3},"encoding":{"x":{"value":4},"x2":{"value":40}}},
{"mark":{"type":"point","filled":true,"size":210,"opacity":1},"encoding":{"x":{"value":22},"shape":{"field":"series","type":"nominal","scale":{"domain":["CON-24h","GNR-L-24h"],"range":["circle","triangle-up"]},"legend":null}}},
{"mark":{"type":"text","fontSize":37,"align":"left"},"encoding":{"x":{"value":65},"text":{"field":"series"},"color":{"value":"#000000"}}},
{"data":{"values":[{"t":"Treatment"}]},"mark":{"type":"text","fontSize":37,"align":"left","baseline":"middle"},"encoding":{"x":{"value":0},"y":{"value":-34},"text":{"field":"t"},"color":{"value":"#000000"}}}]}],"spacing":0,"bounds":"flush","resolve":{"scale":{"color":"independent","shape":"independent"},"legend":{"color":"independent","shape":"independent"}}},
{"width":613,"height":1,"data":{"name":"one"},"mark":{"type":"rect","opacity":0},"encoding":{}},
{"vconcat":[{"width":1,"height":1077,"data":{"name":"one"},"mark":{"type":"rect","opacity":0},"encoding":{}},
{"width":200,"height":85,"data":{"values":[{"series":"CON-12h"},{"series":"GNR-L-12h"}]},"encoding":{"y":{"field":"series","type":"nominal","axis":null,"sort":null,"scale":{"paddingInner":0,"paddingOuter":0}}},
"layer":[{"mark":{"type":"rect"},"encoding":{"x":{"value":0},"x2":{"value":42},"color":{"field":"series","type":"nominal","scale":{"domain":["CON-12h","GNR-L-12h"],"range":["#00DAE0","#FF9289"]},"legend":null}}},
{"mark":{"type":"text","fontSize":28,"align":"left","color":"#000000"},"encoding":{"x":{"value":50},"text":{"field":"series"}}},
{"data":{"values":[{"t":"Treatment"}]},"mark":{"type":"text","fontSize":29,"fontWeight":"bold","align":"left","baseline":"middle","color":"#000000"},"encoding":{"x":{"value":0},"y":{"value":-19},"text":{"field":"t"}}}]}],"spacing":0,"bounds":"flush","resolve":{"scale":{"color":"independent"},"legend":{"color":"independent"}}},
{"width":24,"height":1,"data":{"name":"one"},"mark":{"type":"rect","opacity":0},"encoding":{}},
{"vconcat":[{"width":1,"height":2082,"data":{"name":"one"},"mark":{"type":"rect","opacity":0},"encoding":{}},
{"width":200,"height":81,"data":{"values":[{"series":"CON-24h"},{"series":"GNR-L-24h"}]},"encoding":{"y":{"field":"series","type":"nominal","axis":null,"sort":null,"scale":{"paddingInner":0,"paddingOuter":0}}},
"layer":[{"mark":{"type":"rect"},"encoding":{"x":{"value":0},"x2":{"value":40},"color":{"field":"series","type":"nominal","scale":{"domain":["CON-24h","GNR-L-24h"],"range":["#00DAE0","#FF9289"]},"legend":null}}},
{"mark":{"type":"text","fontSize":28,"align":"left","color":"#000000"},"encoding":{"x":{"value":49},"text":{"field":"series"}}},
{"data":{"values":[{"t":"Treatment"}]},"mark":{"type":"text","fontSize":29,"fontWeight":"bold","align":"left","baseline":"middle","color":"#000000"},"encoding":{"x":{"value":0},"y":{"value":-20},"text":{"field":"t"}}}]}],"spacing":0,"bounds":"flush","resolve":{"scale":{"color":"independent"},"legend":{"color":"independent"}}}
]}
